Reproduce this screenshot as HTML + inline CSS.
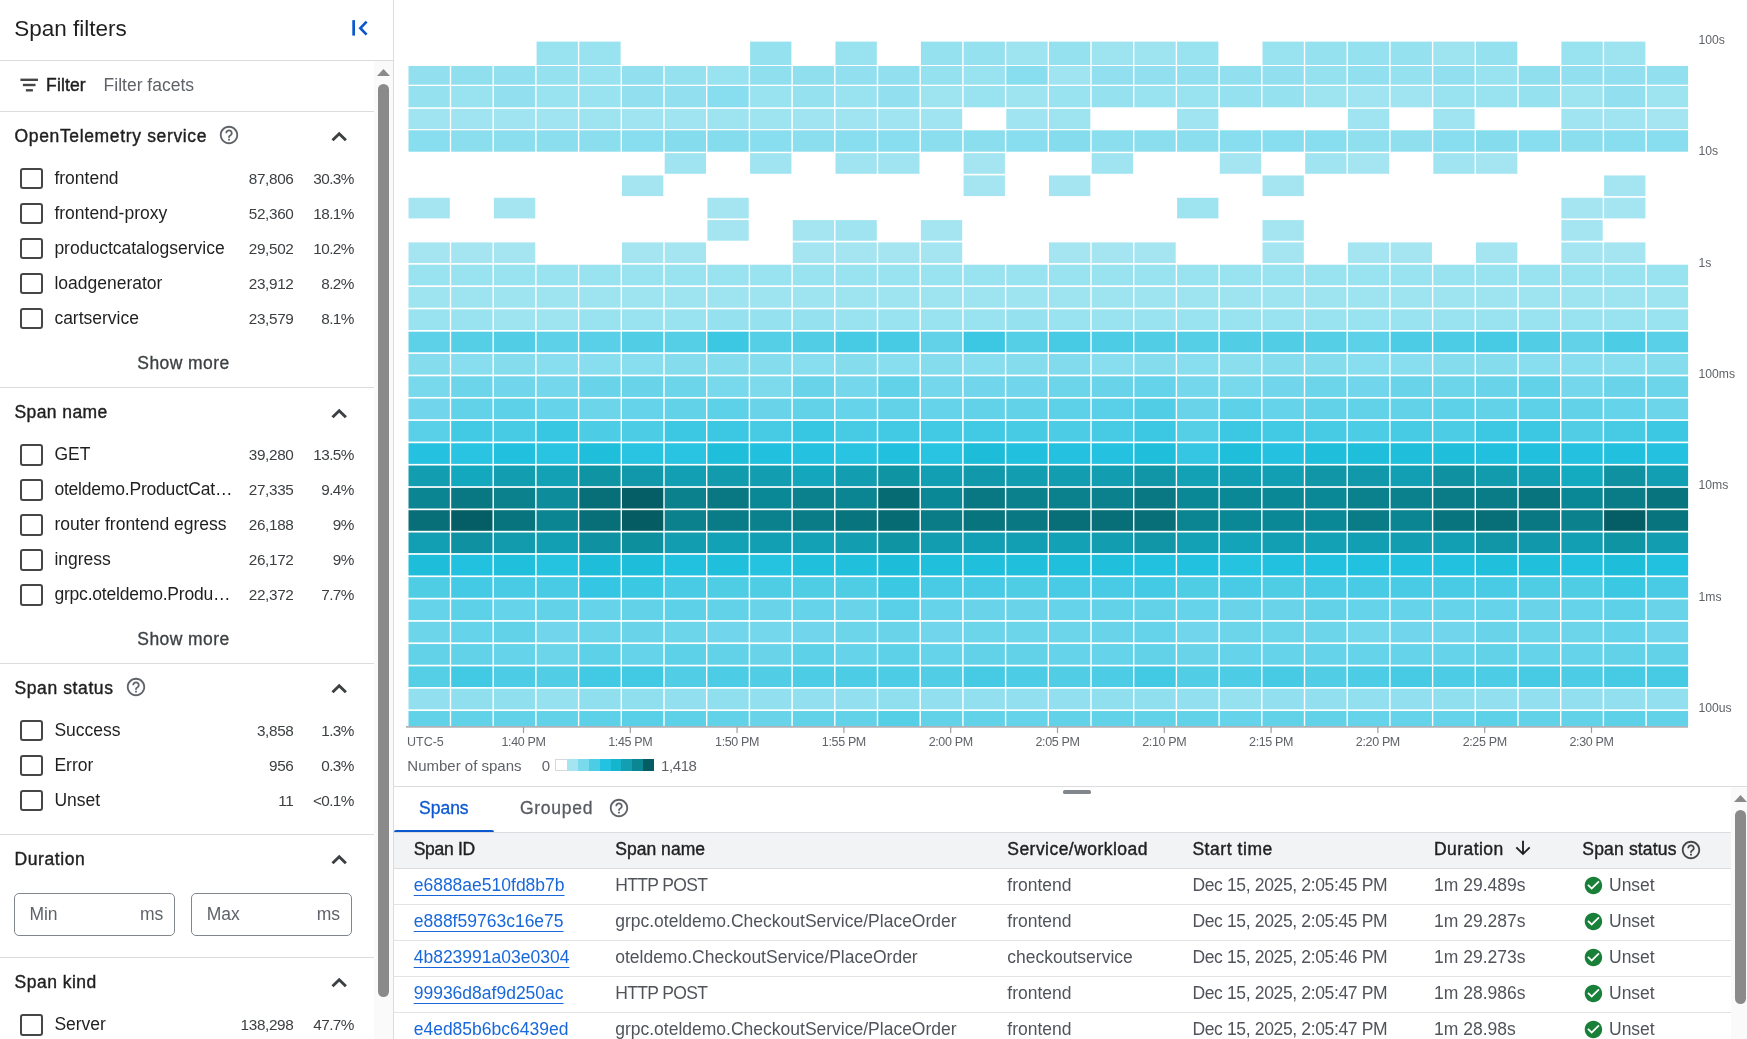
<!DOCTYPE html>
<html><head><meta charset="utf-8"><title>Span filters</title>
<style>
html,body{margin:0;padding:0;background:#fff;}
body{width:1747px;height:1039px;overflow:hidden;position:relative;font-family:'Liberation Sans', Arial, sans-serif;}
.t{position:absolute;line-height:1;white-space:nowrap;}
.r{position:absolute;}
#wrap{position:absolute;left:0;top:0;width:1747px;height:1039px;will-change:transform;}
</style></head><body><div id="wrap">
<div class="t" style="top:17.55px;font-size:22.5px;color:#1f1f1f;left:14.30px;">Span filters</div>
<svg class="r" style="left:346px;top:14px" width="28" height="28" viewBox="0 0 28 28"><path d="M7.65 6.1V21.6" stroke="#0b57d0" stroke-width="2.7" fill="none"/><path d="M20.6 7.6L14.4 14.2L20.6 20.6" stroke="#0b57d0" stroke-width="2.7" stroke-linejoin="miter" fill="none"/></svg>
<div class="r" style="left:0.00px;top:60.00px;width:393.50px;height:1.00px;background:#dadce0;"></div>
<div class="r" style="left:393.00px;top:0.00px;width:1.00px;height:1039.00px;background:#dadce0;"></div>
<svg class="r" style="left:20px;top:77px" width="19" height="16" viewBox="0 0 19 16"><rect x="0.4" y="1.6" width="17.6" height="2.4" fill="#444746"/><rect x="2.9" y="6.8" width="12.6" height="2.4" fill="#444746"/><rect x="5.9" y="12.1" width="7" height="2.4" fill="#444746"/></svg>
<div class="t" style="top:77.08px;font-size:17.5px;color:#1f1f1f;letter-spacing:0.12px;-webkit-text-stroke:0.45px #1f1f1f;left:46.10px;">Filter</div>
<div class="t" style="top:77.08px;font-size:17.5px;color:#5f6368;left:103.60px;">Filter facets</div>
<div class="r" style="left:0.00px;top:111.00px;width:374.00px;height:1.00px;background:#dadce0;"></div>
<div class="r" style="left:374.00px;top:61.00px;width:19.00px;height:978.00px;background:#fafafa;"></div>
<svg class="r" style="left:377px;top:68px" width="13" height="9" viewBox="0 0 13 9"><path d="M0 8h13L6.5 1z" fill="#8a8a8a"/></svg>
<div class="r" style="left:378.00px;top:84.00px;width:11.00px;height:913.00px;background:#8a8a8a;border-radius:5.5px;"></div>
<div class="t" style="top:127.88px;font-size:17.5px;color:#1f1f1f;letter-spacing:0.65px;-webkit-text-stroke:0.4px #1f1f1f;left:14.50px;">OpenTelemetry service</div>
<svg class="r" style="left:218.30px;top:124.30px" width="22" height="22" viewBox="0 0 24 24"><path d="M11 18h2v-2h-2v2zm1-16C6.48 2 2 6.48 2 12s4.48 10 10 10 10-4.48 10-10S17.52 2 12 2zm0 18c-4.41 0-8-3.59-8-8s3.59-8 8-8 8 3.59 8 8-3.59 8-8 8zm0-14c-2.21 0-4 1.79-4 4h2c0-1.1.9-2 2-2s2 .9 2 2c0 2-3 1.75-3 5h2c0-2.25 3-2.5 3-5 0-2.21-1.79-4-4-4z" fill="#5f6368"/></svg>
<svg class="r" style="left:326px;top:123.20px" width="30" height="30" viewBox="0 0 30 30"><path d="M6.5 17.3L13.2 10.7L19.9 17.3" stroke="#3c4043" stroke-width="2.9" fill="none" stroke-linejoin="miter"/></svg>
<div class="r" style="left:20.40px;top:167.90px;width:22.40px;height:21.60px;background:transparent;border:2.5px solid #444746;border-radius:3px;box-sizing:border-box;"></div>
<div class="t" style="top:170.08px;font-size:17.5px;color:#1f1f1f;left:54.40px;">frontend</div>
<div class="t" style="top:171.15px;font-size:15.3px;color:#3c4043;letter-spacing:-0.35px;left:-306.55px;width:600px;text-align:right;">87,806</div>
<div class="t" style="top:171.15px;font-size:15.3px;color:#3c4043;letter-spacing:-0.6px;left:-246.30px;width:600px;text-align:right;">30.3%</div>
<div class="r" style="left:20.40px;top:202.90px;width:22.40px;height:21.60px;background:transparent;border:2.5px solid #444746;border-radius:3px;box-sizing:border-box;"></div>
<div class="t" style="top:205.08px;font-size:17.5px;color:#1f1f1f;left:54.40px;">frontend-proxy</div>
<div class="t" style="top:206.15px;font-size:15.3px;color:#3c4043;letter-spacing:-0.35px;left:-306.55px;width:600px;text-align:right;">52,360</div>
<div class="t" style="top:206.15px;font-size:15.3px;color:#3c4043;letter-spacing:-0.6px;left:-246.30px;width:600px;text-align:right;">18.1%</div>
<div class="r" style="left:20.40px;top:237.90px;width:22.40px;height:21.60px;background:transparent;border:2.5px solid #444746;border-radius:3px;box-sizing:border-box;"></div>
<div class="t" style="top:240.08px;font-size:17.5px;color:#1f1f1f;left:54.40px;">productcatalogservice</div>
<div class="t" style="top:241.15px;font-size:15.3px;color:#3c4043;letter-spacing:-0.35px;left:-306.55px;width:600px;text-align:right;">29,502</div>
<div class="t" style="top:241.15px;font-size:15.3px;color:#3c4043;letter-spacing:-0.6px;left:-246.30px;width:600px;text-align:right;">10.2%</div>
<div class="r" style="left:20.40px;top:272.90px;width:22.40px;height:21.60px;background:transparent;border:2.5px solid #444746;border-radius:3px;box-sizing:border-box;"></div>
<div class="t" style="top:275.08px;font-size:17.5px;color:#1f1f1f;left:54.40px;">loadgenerator</div>
<div class="t" style="top:276.15px;font-size:15.3px;color:#3c4043;letter-spacing:-0.35px;left:-306.55px;width:600px;text-align:right;">23,912</div>
<div class="t" style="top:276.15px;font-size:15.3px;color:#3c4043;letter-spacing:-0.6px;left:-246.30px;width:600px;text-align:right;">8.2%</div>
<div class="r" style="left:20.40px;top:307.90px;width:22.40px;height:21.60px;background:transparent;border:2.5px solid #444746;border-radius:3px;box-sizing:border-box;"></div>
<div class="t" style="top:310.08px;font-size:17.5px;color:#1f1f1f;left:54.40px;">cartservice</div>
<div class="t" style="top:311.15px;font-size:15.3px;color:#3c4043;letter-spacing:-0.35px;left:-306.55px;width:600px;text-align:right;">23,579</div>
<div class="t" style="top:311.15px;font-size:15.3px;color:#3c4043;letter-spacing:-0.6px;left:-246.30px;width:600px;text-align:right;">8.1%</div>
<div class="t" style="top:355.08px;font-size:17.5px;color:#3c4043;letter-spacing:0.44px;-webkit-text-stroke:0.3px #3c4043;left:-116.50px;width:600px;text-align:center;">Show more</div>
<div class="r" style="left:0.00px;top:387.00px;width:374.00px;height:1.00px;background:#dadce0;"></div>
<div class="t" style="top:404.18px;font-size:17.5px;color:#1f1f1f;letter-spacing:0.41px;-webkit-text-stroke:0.4px #1f1f1f;left:14.50px;">Span name</div>
<svg class="r" style="left:326px;top:399.50px" width="30" height="30" viewBox="0 0 30 30"><path d="M6.5 17.3L13.2 10.7L19.9 17.3" stroke="#3c4043" stroke-width="2.9" fill="none" stroke-linejoin="miter"/></svg>
<div class="r" style="left:20.40px;top:444.20px;width:22.40px;height:21.60px;background:transparent;border:2.5px solid #444746;border-radius:3px;box-sizing:border-box;"></div>
<div class="t" style="top:446.38px;font-size:17.5px;color:#1f1f1f;left:54.40px;">GET</div>
<div class="t" style="top:447.45px;font-size:15.3px;color:#3c4043;letter-spacing:-0.35px;left:-306.55px;width:600px;text-align:right;">39,280</div>
<div class="t" style="top:447.45px;font-size:15.3px;color:#3c4043;letter-spacing:-0.6px;left:-246.30px;width:600px;text-align:right;">13.5%</div>
<div class="r" style="left:20.40px;top:479.20px;width:22.40px;height:21.60px;background:transparent;border:2.5px solid #444746;border-radius:3px;box-sizing:border-box;"></div>
<div class="t" style="top:481.38px;font-size:17.5px;color:#1f1f1f;letter-spacing:-0.2px;left:54.40px;">oteldemo.ProductCat…</div>
<div class="t" style="top:482.45px;font-size:15.3px;color:#3c4043;letter-spacing:-0.35px;left:-306.55px;width:600px;text-align:right;">27,335</div>
<div class="t" style="top:482.45px;font-size:15.3px;color:#3c4043;letter-spacing:-0.6px;left:-246.30px;width:600px;text-align:right;">9.4%</div>
<div class="r" style="left:20.40px;top:514.20px;width:22.40px;height:21.60px;background:transparent;border:2.5px solid #444746;border-radius:3px;box-sizing:border-box;"></div>
<div class="t" style="top:516.38px;font-size:17.5px;color:#1f1f1f;left:54.40px;">router frontend egress</div>
<div class="t" style="top:517.45px;font-size:15.3px;color:#3c4043;letter-spacing:-0.35px;left:-306.55px;width:600px;text-align:right;">26,188</div>
<div class="t" style="top:517.45px;font-size:15.3px;color:#3c4043;letter-spacing:-0.6px;left:-246.30px;width:600px;text-align:right;">9%</div>
<div class="r" style="left:20.40px;top:549.20px;width:22.40px;height:21.60px;background:transparent;border:2.5px solid #444746;border-radius:3px;box-sizing:border-box;"></div>
<div class="t" style="top:551.38px;font-size:17.5px;color:#1f1f1f;left:54.40px;">ingress</div>
<div class="t" style="top:552.45px;font-size:15.3px;color:#3c4043;letter-spacing:-0.35px;left:-306.55px;width:600px;text-align:right;">26,172</div>
<div class="t" style="top:552.45px;font-size:15.3px;color:#3c4043;letter-spacing:-0.6px;left:-246.30px;width:600px;text-align:right;">9%</div>
<div class="r" style="left:20.40px;top:584.20px;width:22.40px;height:21.60px;background:transparent;border:2.5px solid #444746;border-radius:3px;box-sizing:border-box;"></div>
<div class="t" style="top:586.38px;font-size:17.5px;color:#1f1f1f;letter-spacing:-0.2px;left:54.40px;">grpc.oteldemo.Produ…</div>
<div class="t" style="top:587.45px;font-size:15.3px;color:#3c4043;letter-spacing:-0.35px;left:-306.55px;width:600px;text-align:right;">22,372</div>
<div class="t" style="top:587.45px;font-size:15.3px;color:#3c4043;letter-spacing:-0.6px;left:-246.30px;width:600px;text-align:right;">7.7%</div>
<div class="t" style="top:631.38px;font-size:17.5px;color:#3c4043;letter-spacing:0.44px;-webkit-text-stroke:0.3px #3c4043;left:-116.50px;width:600px;text-align:center;">Show more</div>
<div class="r" style="left:0.00px;top:663.00px;width:374.00px;height:1.00px;background:#dadce0;"></div>
<div class="t" style="top:679.88px;font-size:17.5px;color:#1f1f1f;letter-spacing:0.6px;-webkit-text-stroke:0.4px #1f1f1f;left:14.50px;">Span status</div>
<svg class="r" style="left:125.00px;top:676.30px" width="22" height="22" viewBox="0 0 24 24"><path d="M11 18h2v-2h-2v2zm1-16C6.48 2 2 6.48 2 12s4.48 10 10 10 10-4.48 10-10S17.52 2 12 2zm0 18c-4.41 0-8-3.59-8-8s3.59-8 8-8 8 3.59 8 8-3.59 8-8 8zm0-14c-2.21 0-4 1.79-4 4h2c0-1.1.9-2 2-2s2 .9 2 2c0 2-3 1.75-3 5h2c0-2.25 3-2.5 3-5 0-2.21-1.79-4-4-4z" fill="#5f6368"/></svg>
<svg class="r" style="left:326px;top:675.20px" width="30" height="30" viewBox="0 0 30 30"><path d="M6.5 17.3L13.2 10.7L19.9 17.3" stroke="#3c4043" stroke-width="2.9" fill="none" stroke-linejoin="miter"/></svg>
<div class="r" style="left:20.40px;top:719.90px;width:22.40px;height:21.60px;background:transparent;border:2.5px solid #444746;border-radius:3px;box-sizing:border-box;"></div>
<div class="t" style="top:722.08px;font-size:17.5px;color:#1f1f1f;left:54.40px;">Success</div>
<div class="t" style="top:723.15px;font-size:15.3px;color:#3c4043;letter-spacing:-0.35px;left:-306.55px;width:600px;text-align:right;">3,858</div>
<div class="t" style="top:723.15px;font-size:15.3px;color:#3c4043;letter-spacing:-0.6px;left:-246.30px;width:600px;text-align:right;">1.3%</div>
<div class="r" style="left:20.40px;top:754.90px;width:22.40px;height:21.60px;background:transparent;border:2.5px solid #444746;border-radius:3px;box-sizing:border-box;"></div>
<div class="t" style="top:757.08px;font-size:17.5px;color:#1f1f1f;left:54.40px;">Error</div>
<div class="t" style="top:758.15px;font-size:15.3px;color:#3c4043;letter-spacing:-0.35px;left:-306.55px;width:600px;text-align:right;">956</div>
<div class="t" style="top:758.15px;font-size:15.3px;color:#3c4043;letter-spacing:-0.6px;left:-246.30px;width:600px;text-align:right;">0.3%</div>
<div class="r" style="left:20.40px;top:789.90px;width:22.40px;height:21.60px;background:transparent;border:2.5px solid #444746;border-radius:3px;box-sizing:border-box;"></div>
<div class="t" style="top:792.08px;font-size:17.5px;color:#1f1f1f;left:54.40px;">Unset</div>
<div class="t" style="top:793.15px;font-size:15.3px;color:#3c4043;letter-spacing:-0.35px;left:-306.55px;width:600px;text-align:right;">11</div>
<div class="t" style="top:793.15px;font-size:15.3px;color:#3c4043;letter-spacing:-0.6px;left:-246.30px;width:600px;text-align:right;">&lt;0.1%</div>
<div class="r" style="left:0.00px;top:834.00px;width:374.00px;height:1.00px;background:#dadce0;"></div>
<div class="t" style="top:850.98px;font-size:17.5px;color:#1f1f1f;letter-spacing:0.58px;-webkit-text-stroke:0.4px #1f1f1f;left:14.50px;">Duration</div>
<svg class="r" style="left:326px;top:846.30px" width="30" height="30" viewBox="0 0 30 30"><path d="M6.5 17.3L13.2 10.7L19.9 17.3" stroke="#3c4043" stroke-width="2.9" fill="none" stroke-linejoin="miter"/></svg>
<div class="r" style="left:14.40px;top:892.60px;width:161.10px;height:43.60px;background:transparent;border:1px solid #80868b;border-radius:5px;box-sizing:border-box;"></div>
<div class="r" style="left:191.40px;top:892.60px;width:161.00px;height:43.60px;background:transparent;border:1px solid #80868b;border-radius:5px;box-sizing:border-box;"></div>
<div class="t" style="top:905.58px;font-size:17.5px;color:#5f6368;left:29.40px;">Min</div>
<div class="t" style="top:906.28px;font-size:17.5px;color:#5f6368;left:-436.80px;width:600px;text-align:right;">ms</div>
<div class="t" style="top:905.58px;font-size:17.5px;color:#5f6368;left:206.70px;">Max</div>
<div class="t" style="top:906.28px;font-size:17.5px;color:#5f6368;left:-260.00px;width:600px;text-align:right;">ms</div>
<div class="r" style="left:0.00px;top:957.00px;width:374.00px;height:1.00px;background:#dadce0;"></div>
<div class="t" style="top:974.08px;font-size:17.5px;color:#1f1f1f;letter-spacing:0.5px;-webkit-text-stroke:0.4px #1f1f1f;left:14.50px;">Span kind</div>
<svg class="r" style="left:326px;top:969.40px" width="30" height="30" viewBox="0 0 30 30"><path d="M6.5 17.3L13.2 10.7L19.9 17.3" stroke="#3c4043" stroke-width="2.9" fill="none" stroke-linejoin="miter"/></svg>
<div class="r" style="left:20.40px;top:1014.10px;width:22.40px;height:21.60px;background:transparent;border:2.5px solid #444746;border-radius:3px;box-sizing:border-box;"></div>
<div class="t" style="top:1016.28px;font-size:17.5px;color:#1f1f1f;left:54.40px;">Server</div>
<div class="t" style="top:1017.35px;font-size:15.3px;color:#3c4043;letter-spacing:-0.35px;left:-306.55px;width:600px;text-align:right;">138,298</div>
<div class="t" style="top:1017.35px;font-size:15.3px;color:#3c4043;letter-spacing:-0.6px;left:-246.30px;width:600px;text-align:right;">47.7%</div>
<svg class="r" style="left:0;top:0" width="1747" height="786" viewBox="0 0 1747 786"><rect x="536.60" y="41.60" width="41.30" height="23.40" fill="#99e2f0"/><rect x="579.30" y="41.60" width="41.30" height="23.40" fill="#99e2f0"/><rect x="750.10" y="41.60" width="41.30" height="23.40" fill="#96e1ef"/><rect x="835.50" y="41.60" width="41.30" height="23.40" fill="#99e2f0"/><rect x="920.90" y="41.60" width="41.30" height="23.40" fill="#96e1ef"/><rect x="963.60" y="41.60" width="41.30" height="23.40" fill="#96e1ef"/><rect x="1006.30" y="41.60" width="41.30" height="23.40" fill="#9de3f0"/><rect x="1049.00" y="41.60" width="41.30" height="23.40" fill="#96e1ef"/><rect x="1091.70" y="41.60" width="41.30" height="23.40" fill="#9de3f0"/><rect x="1134.40" y="41.60" width="41.30" height="23.40" fill="#9de3f0"/><rect x="1177.10" y="41.60" width="41.30" height="23.40" fill="#99e2f0"/><rect x="1262.50" y="41.60" width="41.30" height="23.40" fill="#99e2f0"/><rect x="1305.20" y="41.60" width="41.30" height="23.40" fill="#96e1ef"/><rect x="1347.90" y="41.60" width="41.30" height="23.40" fill="#96e1ef"/><rect x="1390.60" y="41.60" width="41.30" height="23.40" fill="#96e1ef"/><rect x="1433.30" y="41.60" width="41.30" height="23.40" fill="#9de3f0"/><rect x="1476.00" y="41.60" width="41.30" height="23.40" fill="#96e1ef"/><rect x="1561.40" y="41.60" width="41.30" height="23.40" fill="#99e2f0"/><rect x="1604.10" y="41.60" width="41.30" height="23.40" fill="#9de3f0"/><rect x="408.50" y="66.00" width="41.30" height="18.70" fill="#92e0ef"/><rect x="451.20" y="66.00" width="41.30" height="18.70" fill="#8fdfee"/><rect x="493.90" y="66.00" width="41.30" height="18.70" fill="#92e0ef"/><rect x="536.60" y="66.00" width="41.30" height="18.70" fill="#96e1ef"/><rect x="579.30" y="66.00" width="41.30" height="18.70" fill="#99e2f0"/><rect x="622.00" y="66.00" width="41.30" height="18.70" fill="#92e0ef"/><rect x="664.70" y="66.00" width="41.30" height="18.70" fill="#96e1ef"/><rect x="707.40" y="66.00" width="41.30" height="18.70" fill="#99e2f0"/><rect x="750.10" y="66.00" width="41.30" height="18.70" fill="#8fdfee"/><rect x="792.80" y="66.00" width="41.30" height="18.70" fill="#8fdfee"/><rect x="835.50" y="66.00" width="41.30" height="18.70" fill="#92e0ef"/><rect x="878.20" y="66.00" width="41.30" height="18.70" fill="#92e0ef"/><rect x="920.90" y="66.00" width="41.30" height="18.70" fill="#96e1ef"/><rect x="963.60" y="66.00" width="41.30" height="18.70" fill="#99e2f0"/><rect x="1006.30" y="66.00" width="41.30" height="18.70" fill="#88ddee"/><rect x="1049.00" y="66.00" width="41.30" height="18.70" fill="#a0e4f1"/><rect x="1091.70" y="66.00" width="41.30" height="18.70" fill="#92e0ef"/><rect x="1134.40" y="66.00" width="41.30" height="18.70" fill="#92e0ef"/><rect x="1177.10" y="66.00" width="41.30" height="18.70" fill="#92e0ef"/><rect x="1219.80" y="66.00" width="41.30" height="18.70" fill="#92e0ef"/><rect x="1262.50" y="66.00" width="41.30" height="18.70" fill="#92e0ef"/><rect x="1305.20" y="66.00" width="41.30" height="18.70" fill="#96e1ef"/><rect x="1347.90" y="66.00" width="41.30" height="18.70" fill="#92e0ef"/><rect x="1390.60" y="66.00" width="41.30" height="18.70" fill="#96e1ef"/><rect x="1433.30" y="66.00" width="41.30" height="18.70" fill="#92e0ef"/><rect x="1476.00" y="66.00" width="41.30" height="18.70" fill="#99e2f0"/><rect x="1518.70" y="66.00" width="41.30" height="18.70" fill="#8fdfee"/><rect x="1561.40" y="66.00" width="41.30" height="18.70" fill="#92e0ef"/><rect x="1604.10" y="66.00" width="41.30" height="18.70" fill="#92e0ef"/><rect x="1646.80" y="66.00" width="41.30" height="18.70" fill="#92e0ef"/><rect x="408.50" y="86.00" width="41.30" height="21.30" fill="#96e1ef"/><rect x="451.20" y="86.00" width="41.30" height="21.30" fill="#99e2f0"/><rect x="493.90" y="86.00" width="41.30" height="21.30" fill="#92e0ef"/><rect x="536.60" y="86.00" width="41.30" height="21.30" fill="#99e2f0"/><rect x="579.30" y="86.00" width="41.30" height="21.30" fill="#99e2f0"/><rect x="622.00" y="86.00" width="41.30" height="21.30" fill="#92e0ef"/><rect x="664.70" y="86.00" width="41.30" height="21.30" fill="#92e0ef"/><rect x="707.40" y="86.00" width="41.30" height="21.30" fill="#88ddee"/><rect x="750.10" y="86.00" width="41.30" height="21.30" fill="#99e2f0"/><rect x="792.80" y="86.00" width="41.30" height="21.30" fill="#96e1ef"/><rect x="835.50" y="86.00" width="41.30" height="21.30" fill="#99e2f0"/><rect x="878.20" y="86.00" width="41.30" height="21.30" fill="#92e0ef"/><rect x="920.90" y="86.00" width="41.30" height="21.30" fill="#9de3f0"/><rect x="963.60" y="86.00" width="41.30" height="21.30" fill="#99e2f0"/><rect x="1006.30" y="86.00" width="41.30" height="21.30" fill="#9de3f0"/><rect x="1049.00" y="86.00" width="41.30" height="21.30" fill="#99e2f0"/><rect x="1091.70" y="86.00" width="41.30" height="21.30" fill="#96e1ef"/><rect x="1134.40" y="86.00" width="41.30" height="21.30" fill="#99e2f0"/><rect x="1177.10" y="86.00" width="41.30" height="21.30" fill="#99e2f0"/><rect x="1219.80" y="86.00" width="41.30" height="21.30" fill="#96e1ef"/><rect x="1262.50" y="86.00" width="41.30" height="21.30" fill="#96e1ef"/><rect x="1305.20" y="86.00" width="41.30" height="21.30" fill="#9de3f0"/><rect x="1347.90" y="86.00" width="41.30" height="21.30" fill="#a0e4f1"/><rect x="1390.60" y="86.00" width="41.30" height="21.30" fill="#a0e4f1"/><rect x="1433.30" y="86.00" width="41.30" height="21.30" fill="#99e2f0"/><rect x="1476.00" y="86.00" width="41.30" height="21.30" fill="#99e2f0"/><rect x="1518.70" y="86.00" width="41.30" height="21.30" fill="#96e1ef"/><rect x="1561.40" y="86.00" width="41.30" height="21.30" fill="#9de3f0"/><rect x="1604.10" y="86.00" width="41.30" height="21.30" fill="#92e0ef"/><rect x="1646.80" y="86.00" width="41.30" height="21.30" fill="#9de3f0"/><rect x="408.50" y="108.90" width="41.30" height="20.10" fill="#a0e4f1"/><rect x="451.20" y="108.90" width="41.30" height="20.10" fill="#a0e4f1"/><rect x="493.90" y="108.90" width="41.30" height="20.10" fill="#a0e4f1"/><rect x="536.60" y="108.90" width="41.30" height="20.10" fill="#a0e4f1"/><rect x="579.30" y="108.90" width="41.30" height="20.10" fill="#9de3f0"/><rect x="622.00" y="108.90" width="41.30" height="20.10" fill="#a0e4f1"/><rect x="664.70" y="108.90" width="41.30" height="20.10" fill="#a0e4f1"/><rect x="707.40" y="108.90" width="41.30" height="20.10" fill="#9de3f0"/><rect x="750.10" y="108.90" width="41.30" height="20.10" fill="#9de3f0"/><rect x="792.80" y="108.90" width="41.30" height="20.10" fill="#a0e4f1"/><rect x="835.50" y="108.90" width="41.30" height="20.10" fill="#a0e4f1"/><rect x="878.20" y="108.90" width="41.30" height="20.10" fill="#a0e4f1"/><rect x="920.90" y="108.90" width="41.30" height="20.10" fill="#a0e4f1"/><rect x="1006.30" y="108.90" width="41.30" height="20.10" fill="#a0e4f1"/><rect x="1049.00" y="108.90" width="41.30" height="20.10" fill="#9de3f0"/><rect x="1177.10" y="108.90" width="41.30" height="20.10" fill="#a0e4f1"/><rect x="1347.90" y="108.90" width="41.30" height="20.10" fill="#a0e4f1"/><rect x="1433.30" y="108.90" width="41.30" height="20.10" fill="#a0e4f1"/><rect x="1561.40" y="108.90" width="41.30" height="20.10" fill="#a0e4f1"/><rect x="1604.10" y="108.90" width="41.30" height="20.10" fill="#a0e4f1"/><rect x="1646.80" y="108.90" width="41.30" height="20.10" fill="#a4e5f1"/><rect x="408.50" y="130.30" width="41.30" height="21.40" fill="#88ddee"/><rect x="451.20" y="130.30" width="41.30" height="21.40" fill="#8bdeee"/><rect x="493.90" y="130.30" width="41.30" height="21.40" fill="#8bdeee"/><rect x="536.60" y="130.30" width="41.30" height="21.40" fill="#8bdeee"/><rect x="579.30" y="130.30" width="41.30" height="21.40" fill="#8bdeee"/><rect x="622.00" y="130.30" width="41.30" height="21.40" fill="#88ddee"/><rect x="664.70" y="130.30" width="41.30" height="21.40" fill="#84dced"/><rect x="707.40" y="130.30" width="41.30" height="21.40" fill="#84dced"/><rect x="750.10" y="130.30" width="41.30" height="21.40" fill="#88ddee"/><rect x="792.80" y="130.30" width="41.30" height="21.40" fill="#8bdeee"/><rect x="835.50" y="130.30" width="41.30" height="21.40" fill="#88ddee"/><rect x="878.20" y="130.30" width="41.30" height="21.40" fill="#88ddee"/><rect x="920.90" y="130.30" width="41.30" height="21.40" fill="#8bdeee"/><rect x="963.60" y="130.30" width="41.30" height="21.40" fill="#8bdeee"/><rect x="1006.30" y="130.30" width="41.30" height="21.40" fill="#88ddee"/><rect x="1049.00" y="130.30" width="41.30" height="21.40" fill="#84dced"/><rect x="1091.70" y="130.30" width="41.30" height="21.40" fill="#8bdeee"/><rect x="1134.40" y="130.30" width="41.30" height="21.40" fill="#8bdeee"/><rect x="1177.10" y="130.30" width="41.30" height="21.40" fill="#8bdeee"/><rect x="1219.80" y="130.30" width="41.30" height="21.40" fill="#88ddee"/><rect x="1262.50" y="130.30" width="41.30" height="21.40" fill="#88ddee"/><rect x="1305.20" y="130.30" width="41.30" height="21.40" fill="#88ddee"/><rect x="1347.90" y="130.30" width="41.30" height="21.40" fill="#8fdfee"/><rect x="1390.60" y="130.30" width="41.30" height="21.40" fill="#8fdfee"/><rect x="1433.30" y="130.30" width="41.30" height="21.40" fill="#88ddee"/><rect x="1476.00" y="130.30" width="41.30" height="21.40" fill="#84dced"/><rect x="1518.70" y="130.30" width="41.30" height="21.40" fill="#88ddee"/><rect x="1561.40" y="130.30" width="41.30" height="21.40" fill="#8bdeee"/><rect x="1604.10" y="130.30" width="41.30" height="21.40" fill="#88ddee"/><rect x="1646.80" y="130.30" width="41.30" height="21.40" fill="#88ddee"/><rect x="664.70" y="153.16" width="41.30" height="20.62" fill="#a0e4f1"/><rect x="750.10" y="153.16" width="41.30" height="20.62" fill="#a0e4f1"/><rect x="835.50" y="153.16" width="41.30" height="20.62" fill="#a0e4f1"/><rect x="878.20" y="153.16" width="41.30" height="20.62" fill="#a0e4f1"/><rect x="963.60" y="153.16" width="41.30" height="20.62" fill="#a4e5f1"/><rect x="1091.70" y="153.16" width="41.30" height="20.62" fill="#a0e4f1"/><rect x="1219.80" y="153.16" width="41.30" height="20.62" fill="#a4e5f1"/><rect x="1305.20" y="153.16" width="41.30" height="20.62" fill="#a0e4f1"/><rect x="1347.90" y="153.16" width="41.30" height="20.62" fill="#a4e5f1"/><rect x="1433.30" y="153.16" width="41.30" height="20.62" fill="#a0e4f1"/><rect x="1476.00" y="153.16" width="41.30" height="20.62" fill="#a4e5f1"/><rect x="622.00" y="175.47" width="41.30" height="20.62" fill="#a4e5f1"/><rect x="963.60" y="175.47" width="41.30" height="20.62" fill="#a4e5f1"/><rect x="1049.00" y="175.47" width="41.30" height="20.62" fill="#a4e5f1"/><rect x="1262.50" y="175.47" width="41.30" height="20.62" fill="#a4e5f1"/><rect x="1604.10" y="175.47" width="41.30" height="20.62" fill="#a4e5f1"/><rect x="408.50" y="197.79" width="41.30" height="20.62" fill="#a4e5f1"/><rect x="493.90" y="197.79" width="41.30" height="20.62" fill="#a4e5f1"/><rect x="707.40" y="197.79" width="41.30" height="20.62" fill="#a4e5f1"/><rect x="1177.10" y="197.79" width="41.30" height="20.62" fill="#9de3f0"/><rect x="1561.40" y="197.79" width="41.30" height="20.62" fill="#a4e5f1"/><rect x="1604.10" y="197.79" width="41.30" height="20.62" fill="#a4e5f1"/><rect x="707.40" y="220.10" width="41.30" height="20.62" fill="#a4e5f1"/><rect x="792.80" y="220.10" width="41.30" height="20.62" fill="#a4e5f1"/><rect x="835.50" y="220.10" width="41.30" height="20.62" fill="#a0e4f1"/><rect x="920.90" y="220.10" width="41.30" height="20.62" fill="#a4e5f1"/><rect x="1262.50" y="220.10" width="41.30" height="20.62" fill="#a4e5f1"/><rect x="1561.40" y="220.10" width="41.30" height="20.62" fill="#a4e5f1"/><rect x="408.50" y="242.42" width="41.30" height="20.62" fill="#a4e5f1"/><rect x="451.20" y="242.42" width="41.30" height="20.62" fill="#a4e5f1"/><rect x="493.90" y="242.42" width="41.30" height="20.62" fill="#a4e5f1"/><rect x="622.00" y="242.42" width="41.30" height="20.62" fill="#a4e5f1"/><rect x="664.70" y="242.42" width="41.30" height="20.62" fill="#a4e5f1"/><rect x="792.80" y="242.42" width="41.30" height="20.62" fill="#a4e5f1"/><rect x="835.50" y="242.42" width="41.30" height="20.62" fill="#a4e5f1"/><rect x="878.20" y="242.42" width="41.30" height="20.62" fill="#a4e5f1"/><rect x="920.90" y="242.42" width="41.30" height="20.62" fill="#a4e5f1"/><rect x="1049.00" y="242.42" width="41.30" height="20.62" fill="#a4e5f1"/><rect x="1091.70" y="242.42" width="41.30" height="20.62" fill="#a4e5f1"/><rect x="1134.40" y="242.42" width="41.30" height="20.62" fill="#a4e5f1"/><rect x="1262.50" y="242.42" width="41.30" height="20.62" fill="#a4e5f1"/><rect x="1347.90" y="242.42" width="41.30" height="20.62" fill="#a4e5f1"/><rect x="1390.60" y="242.42" width="41.30" height="20.62" fill="#a4e5f1"/><rect x="1476.00" y="242.42" width="41.30" height="20.62" fill="#a4e5f1"/><rect x="1561.40" y="242.42" width="41.30" height="20.62" fill="#a4e5f1"/><rect x="1604.10" y="242.42" width="41.30" height="20.62" fill="#a4e5f1"/><rect x="408.50" y="264.73" width="41.30" height="20.62" fill="#99e2f0"/><rect x="451.20" y="264.73" width="41.30" height="20.62" fill="#99e2f0"/><rect x="493.90" y="264.73" width="41.30" height="20.62" fill="#99e2f0"/><rect x="536.60" y="264.73" width="41.30" height="20.62" fill="#99e2f0"/><rect x="579.30" y="264.73" width="41.30" height="20.62" fill="#99e2f0"/><rect x="622.00" y="264.73" width="41.30" height="20.62" fill="#99e2f0"/><rect x="664.70" y="264.73" width="41.30" height="20.62" fill="#99e2f0"/><rect x="707.40" y="264.73" width="41.30" height="20.62" fill="#99e2f0"/><rect x="750.10" y="264.73" width="41.30" height="20.62" fill="#99e2f0"/><rect x="792.80" y="264.73" width="41.30" height="20.62" fill="#99e2f0"/><rect x="835.50" y="264.73" width="41.30" height="20.62" fill="#99e2f0"/><rect x="878.20" y="264.73" width="41.30" height="20.62" fill="#99e2f0"/><rect x="920.90" y="264.73" width="41.30" height="20.62" fill="#99e2f0"/><rect x="963.60" y="264.73" width="41.30" height="20.62" fill="#99e2f0"/><rect x="1006.30" y="264.73" width="41.30" height="20.62" fill="#99e2f0"/><rect x="1049.00" y="264.73" width="41.30" height="20.62" fill="#99e2f0"/><rect x="1091.70" y="264.73" width="41.30" height="20.62" fill="#99e2f0"/><rect x="1134.40" y="264.73" width="41.30" height="20.62" fill="#99e2f0"/><rect x="1177.10" y="264.73" width="41.30" height="20.62" fill="#99e2f0"/><rect x="1219.80" y="264.73" width="41.30" height="20.62" fill="#99e2f0"/><rect x="1262.50" y="264.73" width="41.30" height="20.62" fill="#99e2f0"/><rect x="1305.20" y="264.73" width="41.30" height="20.62" fill="#99e2f0"/><rect x="1347.90" y="264.73" width="41.30" height="20.62" fill="#99e2f0"/><rect x="1390.60" y="264.73" width="41.30" height="20.62" fill="#99e2f0"/><rect x="1433.30" y="264.73" width="41.30" height="20.62" fill="#99e2f0"/><rect x="1476.00" y="264.73" width="41.30" height="20.62" fill="#99e2f0"/><rect x="1518.70" y="264.73" width="41.30" height="20.62" fill="#99e2f0"/><rect x="1561.40" y="264.73" width="41.30" height="20.62" fill="#99e2f0"/><rect x="1604.10" y="264.73" width="41.30" height="20.62" fill="#99e2f0"/><rect x="1646.80" y="264.73" width="41.30" height="20.62" fill="#99e2f0"/><rect x="408.50" y="287.05" width="41.30" height="20.62" fill="#9de3f0"/><rect x="451.20" y="287.05" width="41.30" height="20.62" fill="#9de3f0"/><rect x="493.90" y="287.05" width="41.30" height="20.62" fill="#9de3f0"/><rect x="536.60" y="287.05" width="41.30" height="20.62" fill="#9de3f0"/><rect x="579.30" y="287.05" width="41.30" height="20.62" fill="#9de3f0"/><rect x="622.00" y="287.05" width="41.30" height="20.62" fill="#9de3f0"/><rect x="664.70" y="287.05" width="41.30" height="20.62" fill="#9de3f0"/><rect x="707.40" y="287.05" width="41.30" height="20.62" fill="#9de3f0"/><rect x="750.10" y="287.05" width="41.30" height="20.62" fill="#9de3f0"/><rect x="792.80" y="287.05" width="41.30" height="20.62" fill="#9de3f0"/><rect x="835.50" y="287.05" width="41.30" height="20.62" fill="#9de3f0"/><rect x="878.20" y="287.05" width="41.30" height="20.62" fill="#9de3f0"/><rect x="920.90" y="287.05" width="41.30" height="20.62" fill="#9de3f0"/><rect x="963.60" y="287.05" width="41.30" height="20.62" fill="#9de3f0"/><rect x="1006.30" y="287.05" width="41.30" height="20.62" fill="#9de3f0"/><rect x="1049.00" y="287.05" width="41.30" height="20.62" fill="#9de3f0"/><rect x="1091.70" y="287.05" width="41.30" height="20.62" fill="#9de3f0"/><rect x="1134.40" y="287.05" width="41.30" height="20.62" fill="#9de3f0"/><rect x="1177.10" y="287.05" width="41.30" height="20.62" fill="#9de3f0"/><rect x="1219.80" y="287.05" width="41.30" height="20.62" fill="#9de3f0"/><rect x="1262.50" y="287.05" width="41.30" height="20.62" fill="#9de3f0"/><rect x="1305.20" y="287.05" width="41.30" height="20.62" fill="#9de3f0"/><rect x="1347.90" y="287.05" width="41.30" height="20.62" fill="#9de3f0"/><rect x="1390.60" y="287.05" width="41.30" height="20.62" fill="#9de3f0"/><rect x="1433.30" y="287.05" width="41.30" height="20.62" fill="#9de3f0"/><rect x="1476.00" y="287.05" width="41.30" height="20.62" fill="#9de3f0"/><rect x="1518.70" y="287.05" width="41.30" height="20.62" fill="#9de3f0"/><rect x="1561.40" y="287.05" width="41.30" height="20.62" fill="#9de3f0"/><rect x="1604.10" y="287.05" width="41.30" height="20.62" fill="#9de3f0"/><rect x="1646.80" y="287.05" width="41.30" height="20.62" fill="#9de3f0"/><rect x="408.50" y="309.36" width="41.30" height="20.62" fill="#99e2f0"/><rect x="451.20" y="309.36" width="41.30" height="20.62" fill="#99e2f0"/><rect x="493.90" y="309.36" width="41.30" height="20.62" fill="#9de3f0"/><rect x="536.60" y="309.36" width="41.30" height="20.62" fill="#9de3f0"/><rect x="579.30" y="309.36" width="41.30" height="20.62" fill="#99e2f0"/><rect x="622.00" y="309.36" width="41.30" height="20.62" fill="#99e2f0"/><rect x="664.70" y="309.36" width="41.30" height="20.62" fill="#99e2f0"/><rect x="707.40" y="309.36" width="41.30" height="20.62" fill="#96e1ef"/><rect x="750.10" y="309.36" width="41.30" height="20.62" fill="#96e1ef"/><rect x="792.80" y="309.36" width="41.30" height="20.62" fill="#96e1ef"/><rect x="835.50" y="309.36" width="41.30" height="20.62" fill="#99e2f0"/><rect x="878.20" y="309.36" width="41.30" height="20.62" fill="#99e2f0"/><rect x="920.90" y="309.36" width="41.30" height="20.62" fill="#99e2f0"/><rect x="963.60" y="309.36" width="41.30" height="20.62" fill="#99e2f0"/><rect x="1006.30" y="309.36" width="41.30" height="20.62" fill="#96e1ef"/><rect x="1049.00" y="309.36" width="41.30" height="20.62" fill="#99e2f0"/><rect x="1091.70" y="309.36" width="41.30" height="20.62" fill="#99e2f0"/><rect x="1134.40" y="309.36" width="41.30" height="20.62" fill="#99e2f0"/><rect x="1177.10" y="309.36" width="41.30" height="20.62" fill="#99e2f0"/><rect x="1219.80" y="309.36" width="41.30" height="20.62" fill="#99e2f0"/><rect x="1262.50" y="309.36" width="41.30" height="20.62" fill="#99e2f0"/><rect x="1305.20" y="309.36" width="41.30" height="20.62" fill="#99e2f0"/><rect x="1347.90" y="309.36" width="41.30" height="20.62" fill="#99e2f0"/><rect x="1390.60" y="309.36" width="41.30" height="20.62" fill="#99e2f0"/><rect x="1433.30" y="309.36" width="41.30" height="20.62" fill="#99e2f0"/><rect x="1476.00" y="309.36" width="41.30" height="20.62" fill="#99e2f0"/><rect x="1518.70" y="309.36" width="41.30" height="20.62" fill="#99e2f0"/><rect x="1561.40" y="309.36" width="41.30" height="20.62" fill="#99e2f0"/><rect x="1604.10" y="309.36" width="41.30" height="20.62" fill="#99e2f0"/><rect x="1646.80" y="309.36" width="41.30" height="20.62" fill="#99e2f0"/><rect x="408.50" y="331.68" width="41.30" height="20.62" fill="#5dd1e8"/><rect x="451.20" y="331.68" width="41.30" height="20.62" fill="#55cfe6"/><rect x="493.90" y="331.68" width="41.30" height="20.62" fill="#51cde6"/><rect x="536.60" y="331.68" width="41.30" height="20.62" fill="#5dd1e8"/><rect x="579.30" y="331.68" width="41.30" height="20.62" fill="#59d0e7"/><rect x="622.00" y="331.68" width="41.30" height="20.62" fill="#51cde6"/><rect x="664.70" y="331.68" width="41.30" height="20.62" fill="#55cfe6"/><rect x="707.40" y="331.68" width="41.30" height="20.62" fill="#3cc8e3"/><rect x="750.10" y="331.68" width="41.30" height="20.62" fill="#55cfe6"/><rect x="792.80" y="331.68" width="41.30" height="20.62" fill="#51cde6"/><rect x="835.50" y="331.68" width="41.30" height="20.62" fill="#47cbe4"/><rect x="878.20" y="331.68" width="41.30" height="20.62" fill="#47cbe4"/><rect x="920.90" y="331.68" width="41.30" height="20.62" fill="#61d2e8"/><rect x="963.60" y="331.68" width="41.30" height="20.62" fill="#3cc8e3"/><rect x="1006.30" y="331.68" width="41.30" height="20.62" fill="#55cfe6"/><rect x="1049.00" y="331.68" width="41.30" height="20.62" fill="#47cbe4"/><rect x="1091.70" y="331.68" width="41.30" height="20.62" fill="#4ccce5"/><rect x="1134.40" y="331.68" width="41.30" height="20.62" fill="#51cde6"/><rect x="1177.10" y="331.68" width="41.30" height="20.62" fill="#55cfe6"/><rect x="1219.80" y="331.68" width="41.30" height="20.62" fill="#51cde6"/><rect x="1262.50" y="331.68" width="41.30" height="20.62" fill="#51cde6"/><rect x="1305.20" y="331.68" width="41.30" height="20.62" fill="#55cfe6"/><rect x="1347.90" y="331.68" width="41.30" height="20.62" fill="#5dd1e8"/><rect x="1390.60" y="331.68" width="41.30" height="20.62" fill="#4ccce5"/><rect x="1433.30" y="331.68" width="41.30" height="20.62" fill="#4ccce5"/><rect x="1476.00" y="331.68" width="41.30" height="20.62" fill="#47cbe4"/><rect x="1518.70" y="331.68" width="41.30" height="20.62" fill="#51cde6"/><rect x="1561.40" y="331.68" width="41.30" height="20.62" fill="#61d2e8"/><rect x="1604.10" y="331.68" width="41.30" height="20.62" fill="#4ccce5"/><rect x="1646.80" y="331.68" width="41.30" height="20.62" fill="#59d0e7"/><rect x="408.50" y="353.99" width="41.30" height="20.62" fill="#84dced"/><rect x="451.20" y="353.99" width="41.30" height="20.62" fill="#88ddee"/><rect x="493.90" y="353.99" width="41.30" height="20.62" fill="#84dced"/><rect x="536.60" y="353.99" width="41.30" height="20.62" fill="#88ddee"/><rect x="579.30" y="353.99" width="41.30" height="20.62" fill="#88ddee"/><rect x="622.00" y="353.99" width="41.30" height="20.62" fill="#88ddee"/><rect x="664.70" y="353.99" width="41.30" height="20.62" fill="#84dced"/><rect x="707.40" y="353.99" width="41.30" height="20.62" fill="#84dced"/><rect x="750.10" y="353.99" width="41.30" height="20.62" fill="#84dced"/><rect x="792.80" y="353.99" width="41.30" height="20.62" fill="#88ddee"/><rect x="835.50" y="353.99" width="41.30" height="20.62" fill="#84dced"/><rect x="878.20" y="353.99" width="41.30" height="20.62" fill="#88ddee"/><rect x="920.90" y="353.99" width="41.30" height="20.62" fill="#84dced"/><rect x="963.60" y="353.99" width="41.30" height="20.62" fill="#88ddee"/><rect x="1006.30" y="353.99" width="41.30" height="20.62" fill="#84dced"/><rect x="1049.00" y="353.99" width="41.30" height="20.62" fill="#81dbed"/><rect x="1091.70" y="353.99" width="41.30" height="20.62" fill="#88ddee"/><rect x="1134.40" y="353.99" width="41.30" height="20.62" fill="#84dced"/><rect x="1177.10" y="353.99" width="41.30" height="20.62" fill="#88ddee"/><rect x="1219.80" y="353.99" width="41.30" height="20.62" fill="#8bdeee"/><rect x="1262.50" y="353.99" width="41.30" height="20.62" fill="#84dced"/><rect x="1305.20" y="353.99" width="41.30" height="20.62" fill="#84dced"/><rect x="1347.90" y="353.99" width="41.30" height="20.62" fill="#88ddee"/><rect x="1390.60" y="353.99" width="41.30" height="20.62" fill="#88ddee"/><rect x="1433.30" y="353.99" width="41.30" height="20.62" fill="#84dced"/><rect x="1476.00" y="353.99" width="41.30" height="20.62" fill="#84dced"/><rect x="1518.70" y="353.99" width="41.30" height="20.62" fill="#88ddee"/><rect x="1561.40" y="353.99" width="41.30" height="20.62" fill="#88ddee"/><rect x="1604.10" y="353.99" width="41.30" height="20.62" fill="#88ddee"/><rect x="1646.80" y="353.99" width="41.30" height="20.62" fill="#84dced"/><rect x="408.50" y="376.31" width="41.30" height="20.62" fill="#79d9ec"/><rect x="451.20" y="376.31" width="41.30" height="20.62" fill="#6dd5ea"/><rect x="493.90" y="376.31" width="41.30" height="20.62" fill="#71d6eb"/><rect x="536.60" y="376.31" width="41.30" height="20.62" fill="#75d7eb"/><rect x="579.30" y="376.31" width="41.30" height="20.62" fill="#69d4e9"/><rect x="622.00" y="376.31" width="41.30" height="20.62" fill="#69d4e9"/><rect x="664.70" y="376.31" width="41.30" height="20.62" fill="#6dd5ea"/><rect x="707.40" y="376.31" width="41.30" height="20.62" fill="#79d9ec"/><rect x="750.10" y="376.31" width="41.30" height="20.62" fill="#7ddaec"/><rect x="792.80" y="376.31" width="41.30" height="20.62" fill="#69d4e9"/><rect x="835.50" y="376.31" width="41.30" height="20.62" fill="#75d7eb"/><rect x="878.20" y="376.31" width="41.30" height="20.62" fill="#61d2e8"/><rect x="920.90" y="376.31" width="41.30" height="20.62" fill="#75d7eb"/><rect x="963.60" y="376.31" width="41.30" height="20.62" fill="#71d6eb"/><rect x="1006.30" y="376.31" width="41.30" height="20.62" fill="#71d6eb"/><rect x="1049.00" y="376.31" width="41.30" height="20.62" fill="#6dd5ea"/><rect x="1091.70" y="376.31" width="41.30" height="20.62" fill="#69d4e9"/><rect x="1134.40" y="376.31" width="41.30" height="20.62" fill="#65d3e9"/><rect x="1177.10" y="376.31" width="41.30" height="20.62" fill="#75d7eb"/><rect x="1219.80" y="376.31" width="41.30" height="20.62" fill="#79d9ec"/><rect x="1262.50" y="376.31" width="41.30" height="20.62" fill="#71d6eb"/><rect x="1305.20" y="376.31" width="41.30" height="20.62" fill="#6dd5ea"/><rect x="1347.90" y="376.31" width="41.30" height="20.62" fill="#71d6eb"/><rect x="1390.60" y="376.31" width="41.30" height="20.62" fill="#69d4e9"/><rect x="1433.30" y="376.31" width="41.30" height="20.62" fill="#6dd5ea"/><rect x="1476.00" y="376.31" width="41.30" height="20.62" fill="#69d4e9"/><rect x="1518.70" y="376.31" width="41.30" height="20.62" fill="#61d2e8"/><rect x="1561.40" y="376.31" width="41.30" height="20.62" fill="#75d7eb"/><rect x="1604.10" y="376.31" width="41.30" height="20.62" fill="#69d4e9"/><rect x="1646.80" y="376.31" width="41.30" height="20.62" fill="#6dd5ea"/><rect x="408.50" y="398.62" width="41.30" height="20.62" fill="#71d6eb"/><rect x="451.20" y="398.62" width="41.30" height="20.62" fill="#61d2e8"/><rect x="493.90" y="398.62" width="41.30" height="20.62" fill="#5dd1e8"/><rect x="536.60" y="398.62" width="41.30" height="20.62" fill="#65d3e9"/><rect x="579.30" y="398.62" width="41.30" height="20.62" fill="#6dd5ea"/><rect x="622.00" y="398.62" width="41.30" height="20.62" fill="#65d3e9"/><rect x="664.70" y="398.62" width="41.30" height="20.62" fill="#61d2e8"/><rect x="707.40" y="398.62" width="41.30" height="20.62" fill="#5dd1e8"/><rect x="750.10" y="398.62" width="41.30" height="20.62" fill="#69d4e9"/><rect x="792.80" y="398.62" width="41.30" height="20.62" fill="#61d2e8"/><rect x="835.50" y="398.62" width="41.30" height="20.62" fill="#65d3e9"/><rect x="878.20" y="398.62" width="41.30" height="20.62" fill="#61d2e8"/><rect x="920.90" y="398.62" width="41.30" height="20.62" fill="#65d3e9"/><rect x="963.60" y="398.62" width="41.30" height="20.62" fill="#61d2e8"/><rect x="1006.30" y="398.62" width="41.30" height="20.62" fill="#61d2e8"/><rect x="1049.00" y="398.62" width="41.30" height="20.62" fill="#5dd1e8"/><rect x="1091.70" y="398.62" width="41.30" height="20.62" fill="#59d0e7"/><rect x="1134.40" y="398.62" width="41.30" height="20.62" fill="#51cde6"/><rect x="1177.10" y="398.62" width="41.30" height="20.62" fill="#69d4e9"/><rect x="1219.80" y="398.62" width="41.30" height="20.62" fill="#5dd1e8"/><rect x="1262.50" y="398.62" width="41.30" height="20.62" fill="#65d3e9"/><rect x="1305.20" y="398.62" width="41.30" height="20.62" fill="#61d2e8"/><rect x="1347.90" y="398.62" width="41.30" height="20.62" fill="#61d2e8"/><rect x="1390.60" y="398.62" width="41.30" height="20.62" fill="#61d2e8"/><rect x="1433.30" y="398.62" width="41.30" height="20.62" fill="#5dd1e8"/><rect x="1476.00" y="398.62" width="41.30" height="20.62" fill="#61d2e8"/><rect x="1518.70" y="398.62" width="41.30" height="20.62" fill="#5dd1e8"/><rect x="1561.40" y="398.62" width="41.30" height="20.62" fill="#61d2e8"/><rect x="1604.10" y="398.62" width="41.30" height="20.62" fill="#65d3e9"/><rect x="1646.80" y="398.62" width="41.30" height="20.62" fill="#6dd5ea"/><rect x="408.50" y="420.94" width="41.30" height="20.62" fill="#59d0e7"/><rect x="451.20" y="420.94" width="41.30" height="20.62" fill="#42c9e4"/><rect x="493.90" y="420.94" width="41.30" height="20.62" fill="#47cbe4"/><rect x="536.60" y="420.94" width="41.30" height="20.62" fill="#37c7e2"/><rect x="579.30" y="420.94" width="41.30" height="20.62" fill="#4ccce5"/><rect x="622.00" y="420.94" width="41.30" height="20.62" fill="#4ccce5"/><rect x="664.70" y="420.94" width="41.30" height="20.62" fill="#3cc8e3"/><rect x="707.40" y="420.94" width="41.30" height="20.62" fill="#3cc8e3"/><rect x="750.10" y="420.94" width="41.30" height="20.62" fill="#47cbe4"/><rect x="792.80" y="420.94" width="41.30" height="20.62" fill="#37c7e2"/><rect x="835.50" y="420.94" width="41.30" height="20.62" fill="#47cbe4"/><rect x="878.20" y="420.94" width="41.30" height="20.62" fill="#42c9e4"/><rect x="920.90" y="420.94" width="41.30" height="20.62" fill="#42c9e4"/><rect x="963.60" y="420.94" width="41.30" height="20.62" fill="#42c9e4"/><rect x="1006.30" y="420.94" width="41.30" height="20.62" fill="#47cbe4"/><rect x="1049.00" y="420.94" width="41.30" height="20.62" fill="#4ccce5"/><rect x="1091.70" y="420.94" width="41.30" height="20.62" fill="#47cbe4"/><rect x="1134.40" y="420.94" width="41.30" height="20.62" fill="#3cc8e3"/><rect x="1177.10" y="420.94" width="41.30" height="20.62" fill="#55cfe6"/><rect x="1219.80" y="420.94" width="41.30" height="20.62" fill="#3cc8e3"/><rect x="1262.50" y="420.94" width="41.30" height="20.62" fill="#42c9e4"/><rect x="1305.20" y="420.94" width="41.30" height="20.62" fill="#47cbe4"/><rect x="1347.90" y="420.94" width="41.30" height="20.62" fill="#4ccce5"/><rect x="1390.60" y="420.94" width="41.30" height="20.62" fill="#47cbe4"/><rect x="1433.30" y="420.94" width="41.30" height="20.62" fill="#4ccce5"/><rect x="1476.00" y="420.94" width="41.30" height="20.62" fill="#3cc8e3"/><rect x="1518.70" y="420.94" width="41.30" height="20.62" fill="#3cc8e3"/><rect x="1561.40" y="420.94" width="41.30" height="20.62" fill="#51cde6"/><rect x="1604.10" y="420.94" width="41.30" height="20.62" fill="#47cbe4"/><rect x="1646.80" y="420.94" width="41.30" height="20.62" fill="#3cc8e3"/><rect x="408.50" y="443.25" width="41.30" height="20.62" fill="#24c2e0"/><rect x="451.20" y="443.25" width="41.30" height="20.62" fill="#29c4e1"/><rect x="493.90" y="443.25" width="41.30" height="20.62" fill="#21c0de"/><rect x="536.60" y="443.25" width="41.30" height="20.62" fill="#29c4e1"/><rect x="579.30" y="443.25" width="41.30" height="20.62" fill="#1fbfdb"/><rect x="622.00" y="443.25" width="41.30" height="20.62" fill="#29c4e1"/><rect x="664.70" y="443.25" width="41.30" height="20.62" fill="#29c4e1"/><rect x="707.40" y="443.25" width="41.30" height="20.62" fill="#1fbfdb"/><rect x="750.10" y="443.25" width="41.30" height="20.62" fill="#21c0de"/><rect x="792.80" y="443.25" width="41.30" height="20.62" fill="#24c2e0"/><rect x="835.50" y="443.25" width="41.30" height="20.62" fill="#29c4e1"/><rect x="878.20" y="443.25" width="41.30" height="20.62" fill="#21c0de"/><rect x="920.90" y="443.25" width="41.30" height="20.62" fill="#29c4e1"/><rect x="963.60" y="443.25" width="41.30" height="20.62" fill="#1dbdd9"/><rect x="1006.30" y="443.25" width="41.30" height="20.62" fill="#21c0de"/><rect x="1049.00" y="443.25" width="41.30" height="20.62" fill="#24c2e0"/><rect x="1091.70" y="443.25" width="41.30" height="20.62" fill="#24c2e0"/><rect x="1134.40" y="443.25" width="41.30" height="20.62" fill="#1fbfdb"/><rect x="1177.10" y="443.25" width="41.30" height="20.62" fill="#34c6e2"/><rect x="1219.80" y="443.25" width="41.30" height="20.62" fill="#1fbfdb"/><rect x="1262.50" y="443.25" width="41.30" height="20.62" fill="#24c2e0"/><rect x="1305.20" y="443.25" width="41.30" height="20.62" fill="#1fbfdb"/><rect x="1347.90" y="443.25" width="41.30" height="20.62" fill="#1fbfdb"/><rect x="1390.60" y="443.25" width="41.30" height="20.62" fill="#1fbfdb"/><rect x="1433.30" y="443.25" width="41.30" height="20.62" fill="#1fbfdb"/><rect x="1476.00" y="443.25" width="41.30" height="20.62" fill="#21c0de"/><rect x="1518.70" y="443.25" width="41.30" height="20.62" fill="#21c0de"/><rect x="1561.40" y="443.25" width="41.30" height="20.62" fill="#24c2e0"/><rect x="1604.10" y="443.25" width="41.30" height="20.62" fill="#21c0de"/><rect x="1646.80" y="443.25" width="41.30" height="20.62" fill="#24c2e0"/><rect x="408.50" y="465.56" width="41.30" height="20.62" fill="#139db0"/><rect x="451.20" y="465.56" width="41.30" height="20.62" fill="#14a8bf"/><rect x="493.90" y="465.56" width="41.30" height="20.62" fill="#139db0"/><rect x="536.60" y="465.56" width="41.30" height="20.62" fill="#13a1b6"/><rect x="579.30" y="465.56" width="41.30" height="20.62" fill="#0f94a4"/><rect x="622.00" y="465.56" width="41.30" height="20.62" fill="#1198aa"/><rect x="664.70" y="465.56" width="41.30" height="20.62" fill="#139fb3"/><rect x="707.40" y="465.56" width="41.30" height="20.62" fill="#129bad"/><rect x="750.10" y="465.56" width="41.30" height="20.62" fill="#139db0"/><rect x="792.80" y="465.56" width="41.30" height="20.62" fill="#14a6bc"/><rect x="835.50" y="465.56" width="41.30" height="20.62" fill="#139db0"/><rect x="878.20" y="465.56" width="41.30" height="20.62" fill="#0f94a4"/><rect x="920.90" y="465.56" width="41.30" height="20.62" fill="#139fb3"/><rect x="963.60" y="465.56" width="41.30" height="20.62" fill="#1198aa"/><rect x="1006.30" y="465.56" width="41.30" height="20.62" fill="#139db0"/><rect x="1049.00" y="465.56" width="41.30" height="20.62" fill="#139db0"/><rect x="1091.70" y="465.56" width="41.30" height="20.62" fill="#139db0"/><rect x="1134.40" y="465.56" width="41.30" height="20.62" fill="#1096a7"/><rect x="1177.10" y="465.56" width="41.30" height="20.62" fill="#13a1b6"/><rect x="1219.80" y="465.56" width="41.30" height="20.62" fill="#139fb3"/><rect x="1262.50" y="465.56" width="41.30" height="20.62" fill="#139fb3"/><rect x="1305.20" y="465.56" width="41.30" height="20.62" fill="#1096a7"/><rect x="1347.90" y="465.56" width="41.30" height="20.62" fill="#1198aa"/><rect x="1390.60" y="465.56" width="41.30" height="20.62" fill="#139fb3"/><rect x="1433.30" y="465.56" width="41.30" height="20.62" fill="#0f91a1"/><rect x="1476.00" y="465.56" width="41.30" height="20.62" fill="#129bad"/><rect x="1518.70" y="465.56" width="41.30" height="20.62" fill="#139fb3"/><rect x="1561.40" y="465.56" width="41.30" height="20.62" fill="#14abc1"/><rect x="1604.10" y="465.56" width="41.30" height="20.62" fill="#0f91a1"/><rect x="1646.80" y="465.56" width="41.30" height="20.62" fill="#139fb3"/><rect x="408.50" y="487.88" width="41.30" height="20.62" fill="#0b8591"/><rect x="451.20" y="487.88" width="41.30" height="20.62" fill="#097882"/><rect x="493.90" y="487.88" width="41.30" height="20.62" fill="#0a818c"/><rect x="536.60" y="487.88" width="41.30" height="20.62" fill="#0d8d9b"/><rect x="579.30" y="487.88" width="41.30" height="20.62" fill="#086f79"/><rect x="622.00" y="487.88" width="41.30" height="20.62" fill="#055e65"/><rect x="664.70" y="487.88" width="41.30" height="20.62" fill="#0a818c"/><rect x="707.40" y="487.88" width="41.30" height="20.62" fill="#097882"/><rect x="750.10" y="487.88" width="41.30" height="20.62" fill="#0b8895"/><rect x="792.80" y="487.88" width="41.30" height="20.62" fill="#0a818c"/><rect x="835.50" y="487.88" width="41.30" height="20.62" fill="#0b8591"/><rect x="878.20" y="487.88" width="41.30" height="20.62" fill="#076b74"/><rect x="920.90" y="487.88" width="41.30" height="20.62" fill="#0b8895"/><rect x="963.60" y="487.88" width="41.30" height="20.62" fill="#097882"/><rect x="1006.30" y="487.88" width="41.30" height="20.62" fill="#0a818c"/><rect x="1049.00" y="487.88" width="41.30" height="20.62" fill="#0a818c"/><rect x="1091.70" y="487.88" width="41.30" height="20.62" fill="#0a818c"/><rect x="1134.40" y="487.88" width="41.30" height="20.62" fill="#097882"/><rect x="1177.10" y="487.88" width="41.30" height="20.62" fill="#0b8895"/><rect x="1219.80" y="487.88" width="41.30" height="20.62" fill="#0b8895"/><rect x="1262.50" y="487.88" width="41.30" height="20.62" fill="#0b8895"/><rect x="1305.20" y="487.88" width="41.30" height="20.62" fill="#0b8895"/><rect x="1347.90" y="487.88" width="41.30" height="20.62" fill="#0a818c"/><rect x="1390.60" y="487.88" width="41.30" height="20.62" fill="#0a818c"/><rect x="1433.30" y="487.88" width="41.30" height="20.62" fill="#0a7c87"/><rect x="1476.00" y="487.88" width="41.30" height="20.62" fill="#0a7c87"/><rect x="1518.70" y="487.88" width="41.30" height="20.62" fill="#08747d"/><rect x="1561.40" y="487.88" width="41.30" height="20.62" fill="#0b8895"/><rect x="1604.10" y="487.88" width="41.30" height="20.62" fill="#0a7c87"/><rect x="1646.80" y="487.88" width="41.30" height="20.62" fill="#08747d"/><rect x="408.50" y="510.19" width="41.30" height="20.61" fill="#086f79"/><rect x="451.20" y="510.19" width="41.30" height="20.61" fill="#055e65"/><rect x="493.90" y="510.19" width="41.30" height="20.61" fill="#08747d"/><rect x="536.60" y="510.19" width="41.30" height="20.61" fill="#0b8591"/><rect x="579.30" y="510.19" width="41.30" height="20.61" fill="#086f79"/><rect x="622.00" y="510.19" width="41.30" height="20.61" fill="#055c63"/><rect x="664.70" y="510.19" width="41.30" height="20.61" fill="#0a818c"/><rect x="707.40" y="510.19" width="41.30" height="20.61" fill="#0a7c87"/><rect x="750.10" y="510.19" width="41.30" height="20.61" fill="#0a818c"/><rect x="792.80" y="510.19" width="41.30" height="20.61" fill="#0a7c87"/><rect x="835.50" y="510.19" width="41.30" height="20.61" fill="#08747d"/><rect x="878.20" y="510.19" width="41.30" height="20.61" fill="#076b74"/><rect x="920.90" y="510.19" width="41.30" height="20.61" fill="#0a7c87"/><rect x="963.60" y="510.19" width="41.30" height="20.61" fill="#08747d"/><rect x="1006.30" y="510.19" width="41.30" height="20.61" fill="#097882"/><rect x="1049.00" y="510.19" width="41.30" height="20.61" fill="#086f79"/><rect x="1091.70" y="510.19" width="41.30" height="20.61" fill="#086f79"/><rect x="1134.40" y="510.19" width="41.30" height="20.61" fill="#086f79"/><rect x="1177.10" y="510.19" width="41.30" height="20.61" fill="#0b8591"/><rect x="1219.80" y="510.19" width="41.30" height="20.61" fill="#0b8895"/><rect x="1262.50" y="510.19" width="41.30" height="20.61" fill="#0b8895"/><rect x="1305.20" y="510.19" width="41.30" height="20.61" fill="#0b8895"/><rect x="1347.90" y="510.19" width="41.30" height="20.61" fill="#0a7c87"/><rect x="1390.60" y="510.19" width="41.30" height="20.61" fill="#0b8591"/><rect x="1433.30" y="510.19" width="41.30" height="20.61" fill="#08747d"/><rect x="1476.00" y="510.19" width="41.30" height="20.61" fill="#086f79"/><rect x="1518.70" y="510.19" width="41.30" height="20.61" fill="#097882"/><rect x="1561.40" y="510.19" width="41.30" height="20.61" fill="#0a818c"/><rect x="1604.10" y="510.19" width="41.30" height="20.61" fill="#055e65"/><rect x="1646.80" y="510.19" width="41.30" height="20.61" fill="#08747d"/><rect x="408.50" y="532.51" width="41.30" height="20.62" fill="#139fb3"/><rect x="451.20" y="532.51" width="41.30" height="20.62" fill="#0f91a1"/><rect x="493.90" y="532.51" width="41.30" height="20.62" fill="#129bad"/><rect x="536.60" y="532.51" width="41.30" height="20.62" fill="#139fb3"/><rect x="579.30" y="532.51" width="41.30" height="20.62" fill="#0f91a1"/><rect x="622.00" y="532.51" width="41.30" height="20.62" fill="#0e8f9e"/><rect x="664.70" y="532.51" width="41.30" height="20.62" fill="#139db0"/><rect x="707.40" y="532.51" width="41.30" height="20.62" fill="#13a1b6"/><rect x="750.10" y="532.51" width="41.30" height="20.62" fill="#139fb3"/><rect x="792.80" y="532.51" width="41.30" height="20.62" fill="#13a1b6"/><rect x="835.50" y="532.51" width="41.30" height="20.62" fill="#139db0"/><rect x="878.20" y="532.51" width="41.30" height="20.62" fill="#0f94a4"/><rect x="920.90" y="532.51" width="41.30" height="20.62" fill="#139db0"/><rect x="963.60" y="532.51" width="41.30" height="20.62" fill="#139fb3"/><rect x="1006.30" y="532.51" width="41.30" height="20.62" fill="#139fb3"/><rect x="1049.00" y="532.51" width="41.30" height="20.62" fill="#13a1b6"/><rect x="1091.70" y="532.51" width="41.30" height="20.62" fill="#139db0"/><rect x="1134.40" y="532.51" width="41.30" height="20.62" fill="#1096a7"/><rect x="1177.10" y="532.51" width="41.30" height="20.62" fill="#13a1b6"/><rect x="1219.80" y="532.51" width="41.30" height="20.62" fill="#14a4b9"/><rect x="1262.50" y="532.51" width="41.30" height="20.62" fill="#139fb3"/><rect x="1305.20" y="532.51" width="41.30" height="20.62" fill="#13a1b6"/><rect x="1347.90" y="532.51" width="41.30" height="20.62" fill="#139fb3"/><rect x="1390.60" y="532.51" width="41.30" height="20.62" fill="#139db0"/><rect x="1433.30" y="532.51" width="41.30" height="20.62" fill="#139fb3"/><rect x="1476.00" y="532.51" width="41.30" height="20.62" fill="#1096a7"/><rect x="1518.70" y="532.51" width="41.30" height="20.62" fill="#1198aa"/><rect x="1561.40" y="532.51" width="41.30" height="20.62" fill="#139fb3"/><rect x="1604.10" y="532.51" width="41.30" height="20.62" fill="#0f94a4"/><rect x="1646.80" y="532.51" width="41.30" height="20.62" fill="#139db0"/><rect x="408.50" y="554.83" width="41.30" height="20.62" fill="#1ebeda"/><rect x="451.20" y="554.83" width="41.30" height="20.62" fill="#22c1df"/><rect x="493.90" y="554.83" width="41.30" height="20.62" fill="#20bfdc"/><rect x="536.60" y="554.83" width="41.30" height="20.62" fill="#26c3e0"/><rect x="579.30" y="554.83" width="41.30" height="20.62" fill="#1ebeda"/><rect x="622.00" y="554.83" width="41.30" height="20.62" fill="#1ebeda"/><rect x="664.70" y="554.83" width="41.30" height="20.62" fill="#22c1df"/><rect x="707.40" y="554.83" width="41.30" height="20.62" fill="#20bfdc"/><rect x="750.10" y="554.83" width="41.30" height="20.62" fill="#26c3e0"/><rect x="792.80" y="554.83" width="41.30" height="20.62" fill="#20bfdc"/><rect x="835.50" y="554.83" width="41.30" height="20.62" fill="#20bfdc"/><rect x="878.20" y="554.83" width="41.30" height="20.62" fill="#1dbcd8"/><rect x="920.90" y="554.83" width="41.30" height="20.62" fill="#20bfdc"/><rect x="963.60" y="554.83" width="41.30" height="20.62" fill="#20bfdc"/><rect x="1006.30" y="554.83" width="41.30" height="20.62" fill="#20bfdc"/><rect x="1049.00" y="554.83" width="41.30" height="20.62" fill="#20bfdc"/><rect x="1091.70" y="554.83" width="41.30" height="20.62" fill="#20bfdc"/><rect x="1134.40" y="554.83" width="41.30" height="20.62" fill="#22c1df"/><rect x="1177.10" y="554.83" width="41.30" height="20.62" fill="#22c1df"/><rect x="1219.80" y="554.83" width="41.30" height="20.62" fill="#26c3e0"/><rect x="1262.50" y="554.83" width="41.30" height="20.62" fill="#22c1df"/><rect x="1305.20" y="554.83" width="41.30" height="20.62" fill="#22c1df"/><rect x="1347.90" y="554.83" width="41.30" height="20.62" fill="#22c1df"/><rect x="1390.60" y="554.83" width="41.30" height="20.62" fill="#22c1df"/><rect x="1433.30" y="554.83" width="41.30" height="20.62" fill="#22c1df"/><rect x="1476.00" y="554.83" width="41.30" height="20.62" fill="#20bfdc"/><rect x="1518.70" y="554.83" width="41.30" height="20.62" fill="#20bfdc"/><rect x="1561.40" y="554.83" width="41.30" height="20.62" fill="#22c1df"/><rect x="1604.10" y="554.83" width="41.30" height="20.62" fill="#1ebeda"/><rect x="1646.80" y="554.83" width="41.30" height="20.62" fill="#22c1df"/><rect x="408.50" y="577.14" width="41.30" height="20.61" fill="#4ecde5"/><rect x="451.20" y="577.14" width="41.30" height="20.61" fill="#44cae4"/><rect x="493.90" y="577.14" width="41.30" height="20.61" fill="#49cbe5"/><rect x="536.60" y="577.14" width="41.30" height="20.61" fill="#49cbe5"/><rect x="579.30" y="577.14" width="41.30" height="20.61" fill="#34c6e2"/><rect x="622.00" y="577.14" width="41.30" height="20.61" fill="#3ac8e3"/><rect x="664.70" y="577.14" width="41.30" height="20.61" fill="#49cbe5"/><rect x="707.40" y="577.14" width="41.30" height="20.61" fill="#4ecde5"/><rect x="750.10" y="577.14" width="41.30" height="20.61" fill="#4ecde5"/><rect x="792.80" y="577.14" width="41.30" height="20.61" fill="#4ecde5"/><rect x="835.50" y="577.14" width="41.30" height="20.61" fill="#4ecde5"/><rect x="878.20" y="577.14" width="41.30" height="20.61" fill="#3ac8e3"/><rect x="920.90" y="577.14" width="41.30" height="20.61" fill="#49cbe5"/><rect x="963.60" y="577.14" width="41.30" height="20.61" fill="#49cbe5"/><rect x="1006.30" y="577.14" width="41.30" height="20.61" fill="#4ecde5"/><rect x="1049.00" y="577.14" width="41.30" height="20.61" fill="#49cbe5"/><rect x="1091.70" y="577.14" width="41.30" height="20.61" fill="#49cbe5"/><rect x="1134.40" y="577.14" width="41.30" height="20.61" fill="#44cae4"/><rect x="1177.10" y="577.14" width="41.30" height="20.61" fill="#4ecde5"/><rect x="1219.80" y="577.14" width="41.30" height="20.61" fill="#49cbe5"/><rect x="1262.50" y="577.14" width="41.30" height="20.61" fill="#4ecde5"/><rect x="1305.20" y="577.14" width="41.30" height="20.61" fill="#49cbe5"/><rect x="1347.90" y="577.14" width="41.30" height="20.61" fill="#49cbe5"/><rect x="1390.60" y="577.14" width="41.30" height="20.61" fill="#49cbe5"/><rect x="1433.30" y="577.14" width="41.30" height="20.61" fill="#49cbe5"/><rect x="1476.00" y="577.14" width="41.30" height="20.61" fill="#49cbe5"/><rect x="1518.70" y="577.14" width="41.30" height="20.61" fill="#4ecde5"/><rect x="1561.40" y="577.14" width="41.30" height="20.61" fill="#4ecde5"/><rect x="1604.10" y="577.14" width="41.30" height="20.61" fill="#3ac8e3"/><rect x="1646.80" y="577.14" width="41.30" height="20.61" fill="#49cbe5"/><rect x="408.50" y="599.46" width="41.30" height="20.62" fill="#65d3e9"/><rect x="451.20" y="599.46" width="41.30" height="20.62" fill="#5dd1e8"/><rect x="493.90" y="599.46" width="41.30" height="20.62" fill="#65d3e9"/><rect x="536.60" y="599.46" width="41.30" height="20.62" fill="#61d2e8"/><rect x="579.30" y="599.46" width="41.30" height="20.62" fill="#65d3e9"/><rect x="622.00" y="599.46" width="41.30" height="20.62" fill="#61d2e8"/><rect x="664.70" y="599.46" width="41.30" height="20.62" fill="#5dd1e8"/><rect x="707.40" y="599.46" width="41.30" height="20.62" fill="#61d2e8"/><rect x="750.10" y="599.46" width="41.30" height="20.62" fill="#69d4e9"/><rect x="792.80" y="599.46" width="41.30" height="20.62" fill="#65d3e9"/><rect x="835.50" y="599.46" width="41.30" height="20.62" fill="#69d4e9"/><rect x="878.20" y="599.46" width="41.30" height="20.62" fill="#59d0e7"/><rect x="920.90" y="599.46" width="41.30" height="20.62" fill="#65d3e9"/><rect x="963.60" y="599.46" width="41.30" height="20.62" fill="#69d4e9"/><rect x="1006.30" y="599.46" width="41.30" height="20.62" fill="#69d4e9"/><rect x="1049.00" y="599.46" width="41.30" height="20.62" fill="#65d3e9"/><rect x="1091.70" y="599.46" width="41.30" height="20.62" fill="#61d2e8"/><rect x="1134.40" y="599.46" width="41.30" height="20.62" fill="#61d2e8"/><rect x="1177.10" y="599.46" width="41.30" height="20.62" fill="#65d3e9"/><rect x="1219.80" y="599.46" width="41.30" height="20.62" fill="#69d4e9"/><rect x="1262.50" y="599.46" width="41.30" height="20.62" fill="#69d4e9"/><rect x="1305.20" y="599.46" width="41.30" height="20.62" fill="#61d2e8"/><rect x="1347.90" y="599.46" width="41.30" height="20.62" fill="#65d3e9"/><rect x="1390.60" y="599.46" width="41.30" height="20.62" fill="#65d3e9"/><rect x="1433.30" y="599.46" width="41.30" height="20.62" fill="#65d3e9"/><rect x="1476.00" y="599.46" width="41.30" height="20.62" fill="#65d3e9"/><rect x="1518.70" y="599.46" width="41.30" height="20.62" fill="#69d4e9"/><rect x="1561.40" y="599.46" width="41.30" height="20.62" fill="#65d3e9"/><rect x="1604.10" y="599.46" width="41.30" height="20.62" fill="#5dd1e8"/><rect x="1646.80" y="599.46" width="41.30" height="20.62" fill="#69d4e9"/><rect x="408.50" y="621.77" width="41.30" height="20.61" fill="#6dd5ea"/><rect x="451.20" y="621.77" width="41.30" height="20.61" fill="#65d3e9"/><rect x="493.90" y="621.77" width="41.30" height="20.61" fill="#61d2e8"/><rect x="536.60" y="621.77" width="41.30" height="20.61" fill="#71d6eb"/><rect x="579.30" y="621.77" width="41.30" height="20.61" fill="#6dd5ea"/><rect x="622.00" y="621.77" width="41.30" height="20.61" fill="#69d4e9"/><rect x="664.70" y="621.77" width="41.30" height="20.61" fill="#6dd5ea"/><rect x="707.40" y="621.77" width="41.30" height="20.61" fill="#71d6eb"/><rect x="750.10" y="621.77" width="41.30" height="20.61" fill="#75d7eb"/><rect x="792.80" y="621.77" width="41.30" height="20.61" fill="#71d6eb"/><rect x="835.50" y="621.77" width="41.30" height="20.61" fill="#6dd5ea"/><rect x="878.20" y="621.77" width="41.30" height="20.61" fill="#69d4e9"/><rect x="920.90" y="621.77" width="41.30" height="20.61" fill="#71d6eb"/><rect x="963.60" y="621.77" width="41.30" height="20.61" fill="#6dd5ea"/><rect x="1006.30" y="621.77" width="41.30" height="20.61" fill="#6dd5ea"/><rect x="1049.00" y="621.77" width="41.30" height="20.61" fill="#6dd5ea"/><rect x="1091.70" y="621.77" width="41.30" height="20.61" fill="#69d4e9"/><rect x="1134.40" y="621.77" width="41.30" height="20.61" fill="#65d3e9"/><rect x="1177.10" y="621.77" width="41.30" height="20.61" fill="#71d6eb"/><rect x="1219.80" y="621.77" width="41.30" height="20.61" fill="#6dd5ea"/><rect x="1262.50" y="621.77" width="41.30" height="20.61" fill="#6dd5ea"/><rect x="1305.20" y="621.77" width="41.30" height="20.61" fill="#6dd5ea"/><rect x="1347.90" y="621.77" width="41.30" height="20.61" fill="#75d7eb"/><rect x="1390.60" y="621.77" width="41.30" height="20.61" fill="#71d6eb"/><rect x="1433.30" y="621.77" width="41.30" height="20.61" fill="#71d6eb"/><rect x="1476.00" y="621.77" width="41.30" height="20.61" fill="#69d4e9"/><rect x="1518.70" y="621.77" width="41.30" height="20.61" fill="#6dd5ea"/><rect x="1561.40" y="621.77" width="41.30" height="20.61" fill="#6dd5ea"/><rect x="1604.10" y="621.77" width="41.30" height="20.61" fill="#65d3e9"/><rect x="1646.80" y="621.77" width="41.30" height="20.61" fill="#71d6eb"/><rect x="408.50" y="644.09" width="41.30" height="20.62" fill="#61d2e8"/><rect x="451.20" y="644.09" width="41.30" height="20.62" fill="#61d2e8"/><rect x="493.90" y="644.09" width="41.30" height="20.62" fill="#65d3e9"/><rect x="536.60" y="644.09" width="41.30" height="20.62" fill="#6dd5ea"/><rect x="579.30" y="644.09" width="41.30" height="20.62" fill="#5dd1e8"/><rect x="622.00" y="644.09" width="41.30" height="20.62" fill="#65d3e9"/><rect x="664.70" y="644.09" width="41.30" height="20.62" fill="#5dd1e8"/><rect x="707.40" y="644.09" width="41.30" height="20.62" fill="#61d2e8"/><rect x="750.10" y="644.09" width="41.30" height="20.62" fill="#69d4e9"/><rect x="792.80" y="644.09" width="41.30" height="20.62" fill="#5dd1e8"/><rect x="835.50" y="644.09" width="41.30" height="20.62" fill="#65d3e9"/><rect x="878.20" y="644.09" width="41.30" height="20.62" fill="#5dd1e8"/><rect x="920.90" y="644.09" width="41.30" height="20.62" fill="#65d3e9"/><rect x="963.60" y="644.09" width="41.30" height="20.62" fill="#61d2e8"/><rect x="1006.30" y="644.09" width="41.30" height="20.62" fill="#61d2e8"/><rect x="1049.00" y="644.09" width="41.30" height="20.62" fill="#65d3e9"/><rect x="1091.70" y="644.09" width="41.30" height="20.62" fill="#65d3e9"/><rect x="1134.40" y="644.09" width="41.30" height="20.62" fill="#61d2e8"/><rect x="1177.10" y="644.09" width="41.30" height="20.62" fill="#69d4e9"/><rect x="1219.80" y="644.09" width="41.30" height="20.62" fill="#65d3e9"/><rect x="1262.50" y="644.09" width="41.30" height="20.62" fill="#65d3e9"/><rect x="1305.20" y="644.09" width="41.30" height="20.62" fill="#65d3e9"/><rect x="1347.90" y="644.09" width="41.30" height="20.62" fill="#65d3e9"/><rect x="1390.60" y="644.09" width="41.30" height="20.62" fill="#65d3e9"/><rect x="1433.30" y="644.09" width="41.30" height="20.62" fill="#65d3e9"/><rect x="1476.00" y="644.09" width="41.30" height="20.62" fill="#61d2e8"/><rect x="1518.70" y="644.09" width="41.30" height="20.62" fill="#65d3e9"/><rect x="1561.40" y="644.09" width="41.30" height="20.62" fill="#65d3e9"/><rect x="1604.10" y="644.09" width="41.30" height="20.62" fill="#61d2e8"/><rect x="1646.80" y="644.09" width="41.30" height="20.62" fill="#61d2e8"/><rect x="408.50" y="666.40" width="41.30" height="20.61" fill="#55cfe6"/><rect x="451.20" y="666.40" width="41.30" height="20.61" fill="#42c9e4"/><rect x="493.90" y="666.40" width="41.30" height="20.61" fill="#4ccce5"/><rect x="536.60" y="666.40" width="41.30" height="20.61" fill="#51cde6"/><rect x="579.30" y="666.40" width="41.30" height="20.61" fill="#42c9e4"/><rect x="622.00" y="666.40" width="41.30" height="20.61" fill="#42c9e4"/><rect x="664.70" y="666.40" width="41.30" height="20.61" fill="#51cde6"/><rect x="707.40" y="666.40" width="41.30" height="20.61" fill="#4ccce5"/><rect x="750.10" y="666.40" width="41.30" height="20.61" fill="#51cde6"/><rect x="792.80" y="666.40" width="41.30" height="20.61" fill="#4ccce5"/><rect x="835.50" y="666.40" width="41.30" height="20.61" fill="#4ccce5"/><rect x="878.20" y="666.40" width="41.30" height="20.61" fill="#4ccce5"/><rect x="920.90" y="666.40" width="41.30" height="20.61" fill="#51cde6"/><rect x="963.60" y="666.40" width="41.30" height="20.61" fill="#47cbe4"/><rect x="1006.30" y="666.40" width="41.30" height="20.61" fill="#4ccce5"/><rect x="1049.00" y="666.40" width="41.30" height="20.61" fill="#51cde6"/><rect x="1091.70" y="666.40" width="41.30" height="20.61" fill="#4ccce5"/><rect x="1134.40" y="666.40" width="41.30" height="20.61" fill="#42c9e4"/><rect x="1177.10" y="666.40" width="41.30" height="20.61" fill="#51cde6"/><rect x="1219.80" y="666.40" width="41.30" height="20.61" fill="#4ccce5"/><rect x="1262.50" y="666.40" width="41.30" height="20.61" fill="#47cbe4"/><rect x="1305.20" y="666.40" width="41.30" height="20.61" fill="#51cde6"/><rect x="1347.90" y="666.40" width="41.30" height="20.61" fill="#4ccce5"/><rect x="1390.60" y="666.40" width="41.30" height="20.61" fill="#47cbe4"/><rect x="1433.30" y="666.40" width="41.30" height="20.61" fill="#4ccce5"/><rect x="1476.00" y="666.40" width="41.30" height="20.61" fill="#4ccce5"/><rect x="1518.70" y="666.40" width="41.30" height="20.61" fill="#47cbe4"/><rect x="1561.40" y="666.40" width="41.30" height="20.61" fill="#4ccce5"/><rect x="1604.10" y="666.40" width="41.30" height="20.61" fill="#47cbe4"/><rect x="1646.80" y="666.40" width="41.30" height="20.61" fill="#47cbe4"/><rect x="408.50" y="688.72" width="41.30" height="20.62" fill="#92e0ef"/><rect x="451.20" y="688.72" width="41.30" height="20.62" fill="#8fdfee"/><rect x="493.90" y="688.72" width="41.30" height="20.62" fill="#8fdfee"/><rect x="536.60" y="688.72" width="41.30" height="20.62" fill="#96e1ef"/><rect x="579.30" y="688.72" width="41.30" height="20.62" fill="#8fdfee"/><rect x="622.00" y="688.72" width="41.30" height="20.62" fill="#8fdfee"/><rect x="664.70" y="688.72" width="41.30" height="20.62" fill="#92e0ef"/><rect x="707.40" y="688.72" width="41.30" height="20.62" fill="#8fdfee"/><rect x="750.10" y="688.72" width="41.30" height="20.62" fill="#92e0ef"/><rect x="792.80" y="688.72" width="41.30" height="20.62" fill="#92e0ef"/><rect x="835.50" y="688.72" width="41.30" height="20.62" fill="#92e0ef"/><rect x="878.20" y="688.72" width="41.30" height="20.62" fill="#8fdfee"/><rect x="920.90" y="688.72" width="41.30" height="20.62" fill="#92e0ef"/><rect x="963.60" y="688.72" width="41.30" height="20.62" fill="#92e0ef"/><rect x="1006.30" y="688.72" width="41.30" height="20.62" fill="#92e0ef"/><rect x="1049.00" y="688.72" width="41.30" height="20.62" fill="#92e0ef"/><rect x="1091.70" y="688.72" width="41.30" height="20.62" fill="#8fdfee"/><rect x="1134.40" y="688.72" width="41.30" height="20.62" fill="#8fdfee"/><rect x="1177.10" y="688.72" width="41.30" height="20.62" fill="#92e0ef"/><rect x="1219.80" y="688.72" width="41.30" height="20.62" fill="#96e1ef"/><rect x="1262.50" y="688.72" width="41.30" height="20.62" fill="#92e0ef"/><rect x="1305.20" y="688.72" width="41.30" height="20.62" fill="#92e0ef"/><rect x="1347.90" y="688.72" width="41.30" height="20.62" fill="#92e0ef"/><rect x="1390.60" y="688.72" width="41.30" height="20.62" fill="#92e0ef"/><rect x="1433.30" y="688.72" width="41.30" height="20.62" fill="#8fdfee"/><rect x="1476.00" y="688.72" width="41.30" height="20.62" fill="#92e0ef"/><rect x="1518.70" y="688.72" width="41.30" height="20.62" fill="#92e0ef"/><rect x="1561.40" y="688.72" width="41.30" height="20.62" fill="#92e0ef"/><rect x="1604.10" y="688.72" width="41.30" height="20.62" fill="#92e0ef"/><rect x="1646.80" y="688.72" width="41.30" height="20.62" fill="#92e0ef"/><rect x="408.50" y="711.03" width="41.30" height="14.97" fill="#61d2e8"/><rect x="451.20" y="711.03" width="41.30" height="14.97" fill="#61d2e8"/><rect x="493.90" y="711.03" width="41.30" height="14.97" fill="#61d2e8"/><rect x="536.60" y="711.03" width="41.30" height="14.97" fill="#61d2e8"/><rect x="579.30" y="711.03" width="41.30" height="14.97" fill="#5dd1e8"/><rect x="622.00" y="711.03" width="41.30" height="14.97" fill="#59d0e7"/><rect x="664.70" y="711.03" width="41.30" height="14.97" fill="#5dd1e8"/><rect x="707.40" y="711.03" width="41.30" height="14.97" fill="#61d2e8"/><rect x="750.10" y="711.03" width="41.30" height="14.97" fill="#69d4e9"/><rect x="792.80" y="711.03" width="41.30" height="14.97" fill="#61d2e8"/><rect x="835.50" y="711.03" width="41.30" height="14.97" fill="#61d2e8"/><rect x="878.20" y="711.03" width="41.30" height="14.97" fill="#55cfe6"/><rect x="920.90" y="711.03" width="41.30" height="14.97" fill="#61d2e8"/><rect x="963.60" y="711.03" width="41.30" height="14.97" fill="#61d2e8"/><rect x="1006.30" y="711.03" width="41.30" height="14.97" fill="#65d3e9"/><rect x="1049.00" y="711.03" width="41.30" height="14.97" fill="#61d2e8"/><rect x="1091.70" y="711.03" width="41.30" height="14.97" fill="#61d2e8"/><rect x="1134.40" y="711.03" width="41.30" height="14.97" fill="#61d2e8"/><rect x="1177.10" y="711.03" width="41.30" height="14.97" fill="#61d2e8"/><rect x="1219.80" y="711.03" width="41.30" height="14.97" fill="#65d3e9"/><rect x="1262.50" y="711.03" width="41.30" height="14.97" fill="#61d2e8"/><rect x="1305.20" y="711.03" width="41.30" height="14.97" fill="#61d2e8"/><rect x="1347.90" y="711.03" width="41.30" height="14.97" fill="#65d3e9"/><rect x="1390.60" y="711.03" width="41.30" height="14.97" fill="#65d3e9"/><rect x="1433.30" y="711.03" width="41.30" height="14.97" fill="#65d3e9"/><rect x="1476.00" y="711.03" width="41.30" height="14.97" fill="#5dd1e8"/><rect x="1518.70" y="711.03" width="41.30" height="14.97" fill="#61d2e8"/><rect x="1561.40" y="711.03" width="41.30" height="14.97" fill="#61d2e8"/><rect x="1604.10" y="711.03" width="41.30" height="14.97" fill="#5dd1e8"/><rect x="1646.80" y="711.03" width="41.30" height="14.97" fill="#61d2e8"/><rect x="406" y="726.2" width="1282" height="1.4" fill="#9aa0a6"/><rect x="522.90" y="727" width="1.2" height="6" fill="#9aa0a6"/><rect x="629.70" y="727" width="1.2" height="6" fill="#9aa0a6"/><rect x="736.50" y="727" width="1.2" height="6" fill="#9aa0a6"/><rect x="843.30" y="727" width="1.2" height="6" fill="#9aa0a6"/><rect x="950.10" y="727" width="1.2" height="6" fill="#9aa0a6"/><rect x="1056.90" y="727" width="1.2" height="6" fill="#9aa0a6"/><rect x="1163.70" y="727" width="1.2" height="6" fill="#9aa0a6"/><rect x="1270.50" y="727" width="1.2" height="6" fill="#9aa0a6"/><rect x="1377.30" y="727" width="1.2" height="6" fill="#9aa0a6"/><rect x="1484.10" y="727" width="1.2" height="6" fill="#9aa0a6"/><rect x="1590.90" y="727" width="1.2" height="6" fill="#9aa0a6"/></svg>
<div class="t" style="top:736.32px;font-size:12.5px;color:#5f6368;letter-spacing:-0.35px;left:223.50px;width:600px;text-align:center;">1:40 PM</div>
<div class="t" style="top:736.32px;font-size:12.5px;color:#5f6368;letter-spacing:-0.35px;left:330.30px;width:600px;text-align:center;">1:45 PM</div>
<div class="t" style="top:736.32px;font-size:12.5px;color:#5f6368;letter-spacing:-0.35px;left:437.10px;width:600px;text-align:center;">1:50 PM</div>
<div class="t" style="top:736.32px;font-size:12.5px;color:#5f6368;letter-spacing:-0.35px;left:543.90px;width:600px;text-align:center;">1:55 PM</div>
<div class="t" style="top:736.32px;font-size:12.5px;color:#5f6368;letter-spacing:-0.35px;left:650.70px;width:600px;text-align:center;">2:00 PM</div>
<div class="t" style="top:736.32px;font-size:12.5px;color:#5f6368;letter-spacing:-0.35px;left:757.50px;width:600px;text-align:center;">2:05 PM</div>
<div class="t" style="top:736.32px;font-size:12.5px;color:#5f6368;letter-spacing:-0.35px;left:864.30px;width:600px;text-align:center;">2:10 PM</div>
<div class="t" style="top:736.32px;font-size:12.5px;color:#5f6368;letter-spacing:-0.35px;left:971.10px;width:600px;text-align:center;">2:15 PM</div>
<div class="t" style="top:736.32px;font-size:12.5px;color:#5f6368;letter-spacing:-0.35px;left:1077.90px;width:600px;text-align:center;">2:20 PM</div>
<div class="t" style="top:736.32px;font-size:12.5px;color:#5f6368;letter-spacing:-0.35px;left:1184.70px;width:600px;text-align:center;">2:25 PM</div>
<div class="t" style="top:736.32px;font-size:12.5px;color:#5f6368;letter-spacing:-0.35px;left:1291.50px;width:600px;text-align:center;">2:30 PM</div>
<div class="t" style="top:736.32px;font-size:12.5px;color:#5f6368;left:407.00px;">UTC-5</div>
<div class="t" style="top:33.87px;font-size:12.2px;color:#5f6368;left:1698.50px;">100s</div>
<div class="t" style="top:145.20px;font-size:12.2px;color:#5f6368;left:1698.50px;">10s</div>
<div class="t" style="top:256.53px;font-size:12.2px;color:#5f6368;left:1698.50px;">1s</div>
<div class="t" style="top:367.86px;font-size:12.2px;color:#5f6368;left:1698.50px;">100ms</div>
<div class="t" style="top:479.19px;font-size:12.2px;color:#5f6368;left:1698.50px;">10ms</div>
<div class="t" style="top:590.52px;font-size:12.2px;color:#5f6368;left:1698.50px;">1ms</div>
<div class="t" style="top:701.85px;font-size:12.2px;color:#5f6368;left:1698.50px;">100us</div>
<div class="t" style="top:758.30px;font-size:15px;color:#5f6368;left:407.30px;">Number of spans</div>
<div class="t" style="top:758.30px;font-size:15px;color:#5f6368;left:541.80px;">0</div>
<div class="r" style="left:555.30px;top:759.40px;width:11.90px;height:12.10px;background:#ffffff;border:1px solid #d6d8dc;box-sizing:border-box;border-right:none;"></div>
<div class="r" style="left:567.20px;top:759.40px;width:10.70px;height:12.10px;background:#a4e5f1;"></div>
<div class="r" style="left:577.90px;top:759.40px;width:10.90px;height:12.10px;background:#7bd9ec;"></div>
<div class="r" style="left:588.80px;top:759.40px;width:11.00px;height:12.10px;background:#4ccce5;"></div>
<div class="r" style="left:599.80px;top:759.40px;width:11.20px;height:12.10px;background:#23c2e0;"></div>
<div class="r" style="left:611.00px;top:759.40px;width:10.10px;height:12.10px;background:#15b5ce;"></div>
<div class="r" style="left:621.10px;top:759.40px;width:10.90px;height:12.10px;background:#139eb2;"></div>
<div class="r" style="left:632.00px;top:759.40px;width:11.20px;height:12.10px;background:#0b8793;"></div>
<div class="r" style="left:643.20px;top:759.40px;width:10.80px;height:12.10px;background:#055c63;"></div>
<div class="t" style="top:758.30px;font-size:15px;color:#5f6368;letter-spacing:-0.4px;left:661.00px;">1,418</div>
<div class="r" style="left:394.00px;top:786.00px;width:1353.00px;height:1.00px;background:#dadce0;"></div>
<div class="r" style="left:1062.80px;top:790.10px;width:28.20px;height:3.70px;background:#80868b;border-radius:1.85px;"></div>
<div class="r" style="left:1731.00px;top:787.00px;width:16.00px;height:252.00px;background:#fafafa;"></div>
<svg class="r" style="left:1734px;top:794px" width="13" height="9" viewBox="0 0 13 9"><path d="M0 8h13L6.5 1z" fill="#8a8a8a"/></svg>
<div class="r" style="left:1735.00px;top:810.00px;width:11.00px;height:194.00px;background:#8a8a8a;border-radius:5.5px;"></div>
<div class="t" style="top:799.88px;font-size:17.5px;color:#0b57d0;letter-spacing:0.0px;-webkit-text-stroke:0.3px #0b57d0;left:419.00px;">Spans</div>
<div class="r" style="left:394.20px;top:829.50px;width:99.50px;height:2.60px;background:#0b57d0;border-radius:2px 2px 0 0;"></div>
<div class="t" style="top:799.88px;font-size:17.5px;color:#575b61;letter-spacing:0.75px;-webkit-text-stroke:0.3px #575b61;left:519.90px;">Grouped</div>
<svg class="r" style="left:608.00px;top:797.00px" width="22" height="22" viewBox="0 0 24 24"><path d="M11 18h2v-2h-2v2zm1-16C6.48 2 2 6.48 2 12s4.48 10 10 10 10-4.48 10-10S17.52 2 12 2zm0 18c-4.41 0-8-3.59-8-8s3.59-8 8-8 8 3.59 8 8-3.59 8-8 8zm0-14c-2.21 0-4 1.79-4 4h2c0-1.1.9-2 2-2s2 .9 2 2c0 2-3 1.75-3 5h2c0-2.25 3-2.5 3-5 0-2.21-1.79-4-4-4z" fill="#5f6368"/></svg>
<div class="r" style="left:394.00px;top:832.40px;width:1337.00px;height:36.00px;background:#f1f3f4;"></div>
<div class="r" style="left:394.00px;top:832.20px;width:1337.00px;height:1.00px;background:#dadce0;"></div>
<div class="r" style="left:394.00px;top:868.00px;width:1337.00px;height:1.00px;background:#dadce0;"></div>
<div class="t" style="top:840.98px;font-size:17.5px;color:#1f1f1f;letter-spacing:-0.29px;-webkit-text-stroke:0.4px #1f1f1f;left:413.70px;">Span ID</div>
<div class="t" style="top:840.98px;font-size:17.5px;color:#1f1f1f;letter-spacing:0.04px;-webkit-text-stroke:0.4px #1f1f1f;left:615.20px;">Span name</div>
<div class="t" style="top:840.98px;font-size:17.5px;color:#1f1f1f;letter-spacing:0.46px;-webkit-text-stroke:0.4px #1f1f1f;left:1007.30px;">Service/workload</div>
<div class="t" style="top:840.98px;font-size:17.5px;color:#1f1f1f;letter-spacing:0.56px;-webkit-text-stroke:0.4px #1f1f1f;left:1192.40px;">Start time</div>
<div class="t" style="top:840.98px;font-size:17.5px;color:#1f1f1f;letter-spacing:0.44px;-webkit-text-stroke:0.4px #1f1f1f;left:1434.00px;">Duration</div>
<svg class="r" style="left:1512px;top:837px" width="22" height="22" viewBox="0 0 24 24"><path d="M20 12l-1.41-1.41L13 16.17V4h-2v12.17l-5.58-5.59L4 12l8 8 8-8z" fill="#1f1f1f"/></svg>
<div class="t" style="top:840.98px;font-size:17.5px;color:#1f1f1f;letter-spacing:0.17px;-webkit-text-stroke:0.4px #1f1f1f;left:1582.30px;">Span status</div>
<svg class="r" style="left:1680.00px;top:838.50px" width="22" height="22" viewBox="0 0 24 24"><path d="M11 18h2v-2h-2v2zm1-16C6.48 2 2 6.48 2 12s4.48 10 10 10 10-4.48 10-10S17.52 2 12 2zm0 18c-4.41 0-8-3.59-8-8s3.59-8 8-8 8 3.59 8 8-3.59 8-8 8zm0-14c-2.21 0-4 1.79-4 4h2c0-1.1.9-2 2-2s2 .9 2 2c0 2-3 1.75-3 5h2c0-2.25 3-2.5 3-5 0-2.21-1.79-4-4-4z" fill="#444746"/></svg>
<div class="r" style="left:394.00px;top:904.00px;width:1337.00px;height:1.00px;background:#e3e3e3;"></div>
<div class="t" style="top:876.98px;font-size:17.5px;color:#1868dc;left:413.70px;text-decoration:underline;text-underline-offset:4.2px;text-decoration-thickness:1.1px;">e6888ae510fd8b7b</div>
<div class="t" style="top:876.98px;font-size:17.5px;color:#50545a;letter-spacing:-0.65px;left:615.20px;">HTTP POST</div>
<div class="t" style="top:876.98px;font-size:17.5px;color:#50545a;left:1007.30px;">frontend</div>
<div class="t" style="top:876.98px;font-size:17.5px;color:#50545a;letter-spacing:-0.35px;left:1192.40px;">Dec 15, 2025, 2:05:45 PM</div>
<div class="t" style="top:876.98px;font-size:17.5px;color:#50545a;left:1434.00px;">1m 29.489s</div>
<svg class="r" style="left:1582.75px;top:874.75px" width="20.9" height="20.9" viewBox="0 0 24 24"><circle cx="12" cy="12" r="9.6" fill="#fff"/><path d="M12 2C6.48 2 2 6.48 2 12s4.48 10 10 10 10-4.48 10-10S17.52 2 12 2zm-2 15l-5-5 1.41-1.41L10 14.17l7.59-7.59L19 8l-9 9z" fill="#188038"/></svg>
<div class="t" style="top:876.98px;font-size:17.5px;color:#50545a;left:1609.00px;">Unset</div>
<div class="r" style="left:394.00px;top:940.00px;width:1337.00px;height:1.00px;background:#e3e3e3;"></div>
<div class="t" style="top:912.98px;font-size:17.5px;color:#1868dc;left:413.70px;text-decoration:underline;text-underline-offset:4.2px;text-decoration-thickness:1.1px;">e888f59763c16e75</div>
<div class="t" style="top:912.98px;font-size:17.5px;color:#50545a;letter-spacing:0px;left:615.20px;">grpc.oteldemo.CheckoutService/PlaceOrder</div>
<div class="t" style="top:912.98px;font-size:17.5px;color:#50545a;left:1007.30px;">frontend</div>
<div class="t" style="top:912.98px;font-size:17.5px;color:#50545a;letter-spacing:-0.35px;left:1192.40px;">Dec 15, 2025, 2:05:45 PM</div>
<div class="t" style="top:912.98px;font-size:17.5px;color:#50545a;left:1434.00px;">1m 29.287s</div>
<svg class="r" style="left:1582.75px;top:910.75px" width="20.9" height="20.9" viewBox="0 0 24 24"><circle cx="12" cy="12" r="9.6" fill="#fff"/><path d="M12 2C6.48 2 2 6.48 2 12s4.48 10 10 10 10-4.48 10-10S17.52 2 12 2zm-2 15l-5-5 1.41-1.41L10 14.17l7.59-7.59L19 8l-9 9z" fill="#188038"/></svg>
<div class="t" style="top:912.98px;font-size:17.5px;color:#50545a;left:1609.00px;">Unset</div>
<div class="r" style="left:394.00px;top:976.00px;width:1337.00px;height:1.00px;background:#e3e3e3;"></div>
<div class="t" style="top:948.98px;font-size:17.5px;color:#1868dc;left:413.70px;text-decoration:underline;text-underline-offset:4.2px;text-decoration-thickness:1.1px;">4b823991a03e0304</div>
<div class="t" style="top:948.98px;font-size:17.5px;color:#50545a;letter-spacing:0px;left:615.20px;">oteldemo.CheckoutService/PlaceOrder</div>
<div class="t" style="top:948.98px;font-size:17.5px;color:#50545a;left:1007.30px;">checkoutservice</div>
<div class="t" style="top:948.98px;font-size:17.5px;color:#50545a;letter-spacing:-0.35px;left:1192.40px;">Dec 15, 2025, 2:05:46 PM</div>
<div class="t" style="top:948.98px;font-size:17.5px;color:#50545a;left:1434.00px;">1m 29.273s</div>
<svg class="r" style="left:1582.75px;top:946.75px" width="20.9" height="20.9" viewBox="0 0 24 24"><circle cx="12" cy="12" r="9.6" fill="#fff"/><path d="M12 2C6.48 2 2 6.48 2 12s4.48 10 10 10 10-4.48 10-10S17.52 2 12 2zm-2 15l-5-5 1.41-1.41L10 14.17l7.59-7.59L19 8l-9 9z" fill="#188038"/></svg>
<div class="t" style="top:948.98px;font-size:17.5px;color:#50545a;left:1609.00px;">Unset</div>
<div class="r" style="left:394.00px;top:1012.00px;width:1337.00px;height:1.00px;background:#e3e3e3;"></div>
<div class="t" style="top:984.98px;font-size:17.5px;color:#1868dc;left:413.70px;text-decoration:underline;text-underline-offset:4.2px;text-decoration-thickness:1.1px;">99936d8af9d250ac</div>
<div class="t" style="top:984.98px;font-size:17.5px;color:#50545a;letter-spacing:-0.65px;left:615.20px;">HTTP POST</div>
<div class="t" style="top:984.98px;font-size:17.5px;color:#50545a;left:1007.30px;">frontend</div>
<div class="t" style="top:984.98px;font-size:17.5px;color:#50545a;letter-spacing:-0.35px;left:1192.40px;">Dec 15, 2025, 2:05:47 PM</div>
<div class="t" style="top:984.98px;font-size:17.5px;color:#50545a;left:1434.00px;">1m 28.986s</div>
<svg class="r" style="left:1582.75px;top:982.75px" width="20.9" height="20.9" viewBox="0 0 24 24"><circle cx="12" cy="12" r="9.6" fill="#fff"/><path d="M12 2C6.48 2 2 6.48 2 12s4.48 10 10 10 10-4.48 10-10S17.52 2 12 2zm-2 15l-5-5 1.41-1.41L10 14.17l7.59-7.59L19 8l-9 9z" fill="#188038"/></svg>
<div class="t" style="top:984.98px;font-size:17.5px;color:#50545a;left:1609.00px;">Unset</div>
<div class="t" style="top:1020.98px;font-size:17.5px;color:#1868dc;left:413.70px;text-decoration:underline;text-underline-offset:4.2px;text-decoration-thickness:1.1px;">e4ed85b6bc6439ed</div>
<div class="t" style="top:1020.98px;font-size:17.5px;color:#50545a;letter-spacing:0px;left:615.20px;">grpc.oteldemo.CheckoutService/PlaceOrder</div>
<div class="t" style="top:1020.98px;font-size:17.5px;color:#50545a;left:1007.30px;">frontend</div>
<div class="t" style="top:1020.98px;font-size:17.5px;color:#50545a;letter-spacing:-0.35px;left:1192.40px;">Dec 15, 2025, 2:05:47 PM</div>
<div class="t" style="top:1020.98px;font-size:17.5px;color:#50545a;left:1434.00px;">1m 28.98s</div>
<svg class="r" style="left:1582.75px;top:1018.75px" width="20.9" height="20.9" viewBox="0 0 24 24"><circle cx="12" cy="12" r="9.6" fill="#fff"/><path d="M12 2C6.48 2 2 6.48 2 12s4.48 10 10 10 10-4.48 10-10S17.52 2 12 2zm-2 15l-5-5 1.41-1.41L10 14.17l7.59-7.59L19 8l-9 9z" fill="#188038"/></svg>
<div class="t" style="top:1020.98px;font-size:17.5px;color:#50545a;left:1609.00px;">Unset</div>
</div></body></html>
